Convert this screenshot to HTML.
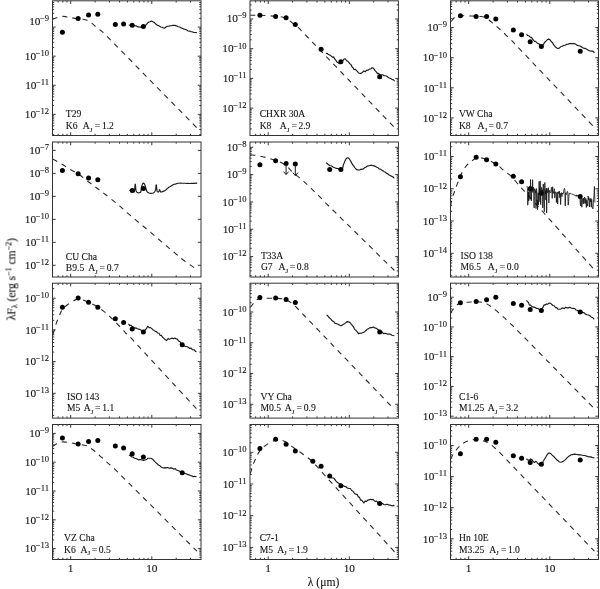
<!DOCTYPE html>
<html><head><meta charset="utf-8"><style>
html,body{margin:0;padding:0;background:#fff;}
svg{display:block;will-change:transform;}
text{font-family:"Liberation Serif",serif;fill:#111;stroke:#111;stroke-width:0.1px;}
.tl{font-size:11.3px;}
.sup{font-size:8.6px;}
.pt{font-size:9.6px;}
.sub{font-size:7px;}
.ax{font-size:11px;}
</style></head><body>
<svg width="600" height="589" viewBox="0 0 600 589">
<defs><filter id="bl" x="0" y="0" width="100%" height="100%"><feGaussianBlur stdDeviation="0.28"/></filter></defs>
<rect width="600" height="589" fill="#fff"/>
<g filter="url(#bl)">
<clipPath id="c00"><rect x="52.5" y="0.8" width="148.5" height="134.7"/></clipPath>
<path d="M58.14 135.5 v-1.7 M58.14 0.8 v1.7 M62.84 135.5 v-1.7 M62.84 0.8 v1.7 M66.99 135.5 v-1.7 M66.99 0.8 v1.7 M70.7 135.5 v-3.2 M70.7 0.8 v3.2 M95.11 135.5 v-1.7 M95.11 0.8 v1.7 M109.39 135.5 v-1.7 M109.39 0.8 v1.7 M119.53 135.5 v-1.7 M119.53 0.8 v1.7 M127.39 135.5 v-1.7 M127.39 0.8 v1.7 M133.81 135.5 v-1.7 M133.81 0.8 v1.7 M139.24 135.5 v-1.7 M139.24 0.8 v1.7 M143.94 135.5 v-1.7 M143.94 0.8 v1.7 M148.09 135.5 v-1.7 M148.09 0.8 v1.7 M151.8 135.5 v-3.2 M151.8 0.8 v3.2 M176.21 135.5 v-1.7 M176.21 0.8 v1.7 M190.49 135.5 v-1.7 M190.49 0.8 v1.7 M52.5 134.63 h1.7 M201 134.63 h-1.7 M52.5 129.51 h1.7 M201 129.51 h-1.7 M52.5 125.88 h1.7 M201 125.88 h-1.7 M52.5 123.06 h1.7 M201 123.06 h-1.7 M52.5 120.76 h1.7 M201 120.76 h-1.7 M52.5 118.81 h1.7 M201 118.81 h-1.7 M52.5 117.13 h1.7 M201 117.13 h-1.7 M52.5 115.64 h1.7 M201 115.64 h-1.7 M52.5 114.31 h3.2 M201 114.31 h-3.2 M52.5 105.56 h1.7 M201 105.56 h-1.7 M52.5 100.44 h1.7 M201 100.44 h-1.7 M52.5 96.81 h1.7 M201 96.81 h-1.7 M52.5 93.99 h1.7 M201 93.99 h-1.7 M52.5 91.69 h1.7 M201 91.69 h-1.7 M52.5 89.74 h1.7 M201 89.74 h-1.7 M52.5 88.06 h1.7 M201 88.06 h-1.7 M52.5 86.57 h1.7 M201 86.57 h-1.7 M52.5 85.24 h3.2 M201 85.24 h-3.2 M52.5 76.49 h1.7 M201 76.49 h-1.7 M52.5 71.37 h1.7 M201 71.37 h-1.7 M52.5 67.74 h1.7 M201 67.74 h-1.7 M52.5 64.92 h1.7 M201 64.92 h-1.7 M52.5 62.62 h1.7 M201 62.62 h-1.7 M52.5 60.67 h1.7 M201 60.67 h-1.7 M52.5 58.99 h1.7 M201 58.99 h-1.7 M52.5 57.5 h1.7 M201 57.5 h-1.7 M52.5 56.17 h3.2 M201 56.17 h-3.2 M52.5 47.42 h1.7 M201 47.42 h-1.7 M52.5 42.3 h1.7 M201 42.3 h-1.7 M52.5 38.67 h1.7 M201 38.67 h-1.7 M52.5 35.85 h1.7 M201 35.85 h-1.7 M52.5 33.55 h1.7 M201 33.55 h-1.7 M52.5 31.6 h1.7 M201 31.6 h-1.7 M52.5 29.92 h1.7 M201 29.92 h-1.7 M52.5 28.43 h1.7 M201 28.43 h-1.7 M52.5 27.1 h3.2 M201 27.1 h-3.2 M52.5 18.35 h1.7 M201 18.35 h-1.7 M52.5 13.23 h1.7 M201 13.23 h-1.7 M52.5 9.6 h1.7 M201 9.6 h-1.7 M52.5 6.78 h1.7 M201 6.78 h-1.7 M52.5 4.48 h1.7 M201 4.48 h-1.7 M52.5 2.53 h1.7 M201 2.53 h-1.7" stroke="#222" stroke-width="0.9" fill="none"/>
<rect x="52.5" y="0.8" width="148.5" height="134.7" fill="none" stroke="#333" stroke-width="1"/>
<text x="49.1" y="24.7" text-anchor="end" class="tl">10<tspan class="sup" dx="-0.5" dy="-3.9">−9</tspan></text>
<text x="49.1" y="59.87" text-anchor="end" class="tl">10<tspan class="sup" dx="-0.5" dy="-3.9">−10</tspan></text>
<text x="49.1" y="88.94" text-anchor="end" class="tl">10<tspan class="sup" dx="-0.5" dy="-3.9">−11</tspan></text>
<text x="49.1" y="118.01" text-anchor="end" class="tl">10<tspan class="sup" dx="-0.5" dy="-3.9">−12</tspan></text>
<g clip-path="url(#c00)"><path d="M52.5 19.3 C53.2 19.05 55.12 18.32 56.7 17.8 C58.28 17.28 60.28 16.33 62 16.2 C63.72 16.07 65.33 16.73 67 17 C68.67 17.27 70.5 17.53 72 17.8 C73.5 18.07 74.17 18.35 76 18.6 C77.83 18.85 81 18.95 83 19.3 C85 19.65 86.5 20.02 88 20.7 C89.5 21.38 90.67 22.38 92 23.4 C93.33 24.42 94.6 25.65 96 26.8 C97.4 27.95 99.03 29.18 100.4 30.3 C101.77 31.42 102.38 31.76 104.2 33.5 C106.02 35.24 108.96 38.35 111.34 40.77 C113.72 43.19 116.1 45.62 118.48 48.04 C120.86 50.46 123.24 52.88 125.62 55.31 C127.99 57.73 130.37 60.15 132.75 62.58 C135.13 65 137.51 67.42 139.89 69.85 C142.27 72.27 144.65 74.69 147.03 77.12 C149.41 79.54 151.79 81.96 154.17 84.38 C156.55 86.81 158.93 89.23 161.31 91.65 C163.69 94.08 166.07 96.5 168.45 98.92 C170.83 101.35 173.21 103.77 175.58 106.19 C177.96 108.62 180.34 111.04 182.72 113.46 C185.1 115.88 187.48 118.31 189.86 120.73 C192.24 123.15 195.81 126.79 197 128" stroke="#2a2a2a" stroke-width="1.1" fill="none" stroke-dasharray="5.2 5"/><path d="M128.8 25 L130.24 25.3 L131.59 25.1 L133.03 25.39 L134.4 25.75 L135.82 25.84 L137.12 26.38 L138.59 26.91 L140 27.08 L141.39 27.17 L142.73 27.42 L144.12 27.24 L145.19 26.06 L145.92 24.92 L146.69 24.06 L147.7 22.82 L148.87 21.97 L150.06 21.77 L151.47 20.97 L152.69 21.8 L153.82 22.09 L154.9 23.05 L156.04 24.32 L157.08 25.09 L158.25 25.5 L159.63 26.32 L160.83 27 L162.04 27.3 L163.44 27.95 L164.85 28.1 L166.06 27 L167.3 26.25 L168.77 26.14 L170.16 25.73 L171.6 25.73 L172.99 25.28 L174.44 25.37 L175.72 25.65 L177.02 25.99 L178.27 26.7 L179.69 26.97 L180.91 27.86 L182.15 28.23 L183.39 28.83 L184.89 29.27 L186.36 29.79 L187.84 30.76 L189.37 31.08 L190.68 31.57 L192.2 31.8 L193.78 32.53 L195.23 32.51 L196.61 32.6 L196.8 32.8" stroke="#1a1a1a" stroke-width="1.15" fill="none" stroke-linejoin="round"/></g>
<circle cx="62.4" cy="32.3" r="2.5"/>
<circle cx="78.13" cy="18.6" r="2.5"/>
<circle cx="88.59" cy="15.1" r="2.5"/>
<circle cx="97.81" cy="14.3" r="2.5"/>
<circle cx="115.32" cy="24.5" r="2.5"/>
<circle cx="123.6" cy="24" r="2.5"/>
<circle cx="132.19" cy="25.3" r="2.5"/>
<circle cx="143.36" cy="26.4" r="2.5"/>
<text x="65.8" y="117.4" class="pt">T29</text>
<text y="128.9" class="pt"><tspan x="65.8">K6</tspan><tspan x="82.85">A</tspan><tspan class="sub" dy="2.6">J</tspan><tspan x="94.7" dy="-2.6">=</tspan><tspan x="101.9">1.2</tspan></text>
<clipPath id="c10"><rect x="250" y="0.8" width="148.4" height="134.7"/></clipPath>
<path d="M255.64 135.5 v-1.7 M255.64 0.8 v1.7 M260.34 135.5 v-1.7 M260.34 0.8 v1.7 M264.49 135.5 v-1.7 M264.49 0.8 v1.7 M268.2 135.5 v-3.2 M268.2 0.8 v3.2 M292.61 135.5 v-1.7 M292.61 0.8 v1.7 M306.89 135.5 v-1.7 M306.89 0.8 v1.7 M317.03 135.5 v-1.7 M317.03 0.8 v1.7 M324.89 135.5 v-1.7 M324.89 0.8 v1.7 M331.31 135.5 v-1.7 M331.31 0.8 v1.7 M336.74 135.5 v-1.7 M336.74 0.8 v1.7 M341.44 135.5 v-1.7 M341.44 0.8 v1.7 M345.59 135.5 v-1.7 M345.59 0.8 v1.7 M349.3 135.5 v-3.2 M349.3 0.8 v3.2 M373.71 135.5 v-1.7 M373.71 0.8 v1.7 M387.99 135.5 v-1.7 M387.99 0.8 v1.7 M250 128.86 h1.7 M398.4 128.86 h-1.7 M250 123.63 h1.7 M398.4 123.63 h-1.7 M250 119.92 h1.7 M398.4 119.92 h-1.7 M250 117.04 h1.7 M398.4 117.04 h-1.7 M250 114.69 h1.7 M398.4 114.69 h-1.7 M250 112.7 h1.7 M398.4 112.7 h-1.7 M250 110.98 h1.7 M398.4 110.98 h-1.7 M250 109.46 h1.7 M398.4 109.46 h-1.7 M250 108.1 h3.2 M398.4 108.1 h-3.2 M250 99.16 h1.7 M398.4 99.16 h-1.7 M250 93.93 h1.7 M398.4 93.93 h-1.7 M250 90.22 h1.7 M398.4 90.22 h-1.7 M250 87.34 h1.7 M398.4 87.34 h-1.7 M250 84.99 h1.7 M398.4 84.99 h-1.7 M250 83 h1.7 M398.4 83 h-1.7 M250 81.28 h1.7 M398.4 81.28 h-1.7 M250 79.76 h1.7 M398.4 79.76 h-1.7 M250 78.4 h3.2 M398.4 78.4 h-3.2 M250 69.46 h1.7 M398.4 69.46 h-1.7 M250 64.23 h1.7 M398.4 64.23 h-1.7 M250 60.52 h1.7 M398.4 60.52 h-1.7 M250 57.64 h1.7 M398.4 57.64 h-1.7 M250 55.29 h1.7 M398.4 55.29 h-1.7 M250 53.3 h1.7 M398.4 53.3 h-1.7 M250 51.58 h1.7 M398.4 51.58 h-1.7 M250 50.06 h1.7 M398.4 50.06 h-1.7 M250 48.7 h3.2 M398.4 48.7 h-3.2 M250 39.76 h1.7 M398.4 39.76 h-1.7 M250 34.53 h1.7 M398.4 34.53 h-1.7 M250 30.82 h1.7 M398.4 30.82 h-1.7 M250 27.94 h1.7 M398.4 27.94 h-1.7 M250 25.59 h1.7 M398.4 25.59 h-1.7 M250 23.6 h1.7 M398.4 23.6 h-1.7 M250 21.88 h1.7 M398.4 21.88 h-1.7 M250 20.36 h1.7 M398.4 20.36 h-1.7 M250 19 h3.2 M398.4 19 h-3.2 M250 10.06 h1.7 M398.4 10.06 h-1.7 M250 4.83 h1.7 M398.4 4.83 h-1.7" stroke="#222" stroke-width="0.9" fill="none"/>
<rect x="250" y="0.8" width="148.4" height="134.7" fill="none" stroke="#333" stroke-width="1"/>
<text x="246.6" y="22" text-anchor="end" class="tl">10<tspan class="sup" dx="-0.5" dy="-3.9">−9</tspan></text>
<text x="246.6" y="52.4" text-anchor="end" class="tl">10<tspan class="sup" dx="-0.5" dy="-3.9">−10</tspan></text>
<text x="246.6" y="82.1" text-anchor="end" class="tl">10<tspan class="sup" dx="-0.5" dy="-3.9">−11</tspan></text>
<text x="246.6" y="111.8" text-anchor="end" class="tl">10<tspan class="sup" dx="-0.5" dy="-3.9">−12</tspan></text>
<g clip-path="url(#c10)"><path d="M250.2 15.2 C251.83 15.22 255.87 15.13 260 15.3 C264.13 15.47 271.17 15.88 275 16.2 C278.83 16.52 280.83 16.65 283 17.2 C285.17 17.75 286.33 18.45 288 19.5 C289.67 20.55 291.22 22.1 293 23.5 C294.78 24.9 296.53 25.9 298.7 27.9 C300.87 29.9 303.57 32.97 306.01 35.5 C308.44 38.03 310.88 40.57 313.32 43.1 C315.75 45.63 318.19 48.17 320.62 50.7 C323.06 53.23 325.49 55.77 327.93 58.3 C330.37 60.83 332.8 63.37 335.24 65.9 C337.67 68.43 340.11 70.97 342.55 73.5 C344.98 76.03 347.42 78.57 349.85 81.1 C352.29 83.63 354.73 86.17 357.16 88.7 C359.6 91.23 362.03 93.77 364.47 96.3 C366.91 98.83 369.34 101.37 371.78 103.9 C374.21 106.43 376.65 108.97 379.08 111.5 C381.52 114.03 383.96 116.57 386.39 119.1 C388.83 121.63 392.48 125.43 393.7 126.7" stroke="#2a2a2a" stroke-width="1.1" fill="none" stroke-dasharray="5.2 5"/><path d="M325.8 53.3 L327.22 53.56 L328.42 54.41 L329.73 55.02 L331.06 55.89 L332.28 57.15 L333.58 56.88 L334.59 58.66 L335.44 59.78 L336.19 60.71 L337.11 62.17 L338.29 62.74 L339.62 63.73 L340.93 62.03 L342.03 61.19 L343.08 60.52 L344.18 58.72 L345.44 59.09 L346.59 60.61 L347.56 61.17 L348.6 62.17 L349.71 63.62 L350.95 64.47 L351.99 66.76 L353.09 67.92 L354.18 69.69 L355.22 69.26 L356.44 70.45 L357.52 71.55 L358.47 73.05 L359.76 73.31 L361.12 73.43 L362.44 72.27 L363.86 70.95 L365.31 71.7 L366.7 70.05 L368.05 70.36 L369.42 69.05 L370.78 68.83 L372.08 67.71 L373.58 68.33 L374.62 69.86 L375.56 71.21 L376.49 72.16 L377.47 73.59 L378.6 73.44 L379.9 74.87 L381.29 74.79 L382.71 74.8 L384.07 75.71 L385.57 75.8 L386.89 76.25 L388.1 77.22 L389.28 77.93 L390.5 78.59 L391.85 79.37 L393.17 79.66 L394.42 80.84 L394.7 80.5" stroke="#1a1a1a" stroke-width="1.15" fill="none" stroke-linejoin="round"/></g>
<circle cx="259.9" cy="15.2" r="2.5"/>
<circle cx="275.63" cy="16.5" r="2.5"/>
<circle cx="286.09" cy="17.7" r="2.5"/>
<circle cx="295.31" cy="24.6" r="2.5"/>
<circle cx="321.1" cy="49.2" r="2.5"/>
<circle cx="340.86" cy="61.7" r="2.5"/>
<circle cx="379.69" cy="76.7" r="2.5"/>
<text x="259.7" y="117.4" class="pt">CHXR 30A</text>
<text y="128.9" class="pt"><tspan x="259.7">K8</tspan><tspan x="279.85">A</tspan><tspan class="sub" dy="2.6">J</tspan><tspan x="291.4" dy="-2.6">=</tspan><tspan x="298.4">2.9</tspan></text>
<clipPath id="c20"><rect x="450.5" y="0.8" width="148" height="134.7"/></clipPath>
<path d="M456.14 135.5 v-1.7 M456.14 0.8 v1.7 M460.84 135.5 v-1.7 M460.84 0.8 v1.7 M464.99 135.5 v-1.7 M464.99 0.8 v1.7 M468.7 135.5 v-3.2 M468.7 0.8 v3.2 M493.11 135.5 v-1.7 M493.11 0.8 v1.7 M507.39 135.5 v-1.7 M507.39 0.8 v1.7 M517.53 135.5 v-1.7 M517.53 0.8 v1.7 M525.39 135.5 v-1.7 M525.39 0.8 v1.7 M531.81 135.5 v-1.7 M531.81 0.8 v1.7 M537.24 135.5 v-1.7 M537.24 0.8 v1.7 M541.94 135.5 v-1.7 M541.94 0.8 v1.7 M546.09 135.5 v-1.7 M546.09 0.8 v1.7 M549.8 135.5 v-3.2 M549.8 0.8 v3.2 M574.21 135.5 v-1.7 M574.21 0.8 v1.7 M588.49 135.5 v-1.7 M588.49 0.8 v1.7 M450.5 133.64 h1.7 M598.5 133.64 h-1.7 M450.5 129.88 h1.7 M598.5 129.88 h-1.7 M450.5 126.96 h1.7 M598.5 126.96 h-1.7 M450.5 124.58 h1.7 M598.5 124.58 h-1.7 M450.5 122.56 h1.7 M598.5 122.56 h-1.7 M450.5 120.82 h1.7 M598.5 120.82 h-1.7 M450.5 119.28 h1.7 M598.5 119.28 h-1.7 M450.5 117.9 h3.2 M598.5 117.9 h-3.2 M450.5 108.84 h1.7 M598.5 108.84 h-1.7 M450.5 103.54 h1.7 M598.5 103.54 h-1.7 M450.5 99.78 h1.7 M598.5 99.78 h-1.7 M450.5 96.86 h1.7 M598.5 96.86 h-1.7 M450.5 94.48 h1.7 M598.5 94.48 h-1.7 M450.5 92.46 h1.7 M598.5 92.46 h-1.7 M450.5 90.72 h1.7 M598.5 90.72 h-1.7 M450.5 89.18 h1.7 M598.5 89.18 h-1.7 M450.5 87.8 h3.2 M598.5 87.8 h-3.2 M450.5 78.74 h1.7 M598.5 78.74 h-1.7 M450.5 73.44 h1.7 M598.5 73.44 h-1.7 M450.5 69.68 h1.7 M598.5 69.68 h-1.7 M450.5 66.76 h1.7 M598.5 66.76 h-1.7 M450.5 64.38 h1.7 M598.5 64.38 h-1.7 M450.5 62.36 h1.7 M598.5 62.36 h-1.7 M450.5 60.62 h1.7 M598.5 60.62 h-1.7 M450.5 59.08 h1.7 M598.5 59.08 h-1.7 M450.5 57.7 h3.2 M598.5 57.7 h-3.2 M450.5 48.64 h1.7 M598.5 48.64 h-1.7 M450.5 43.34 h1.7 M598.5 43.34 h-1.7 M450.5 39.58 h1.7 M598.5 39.58 h-1.7 M450.5 36.66 h1.7 M598.5 36.66 h-1.7 M450.5 34.28 h1.7 M598.5 34.28 h-1.7 M450.5 32.26 h1.7 M598.5 32.26 h-1.7 M450.5 30.52 h1.7 M598.5 30.52 h-1.7 M450.5 28.98 h1.7 M598.5 28.98 h-1.7 M450.5 27.6 h3.2 M598.5 27.6 h-3.2 M450.5 18.54 h1.7 M598.5 18.54 h-1.7 M450.5 13.24 h1.7 M598.5 13.24 h-1.7 M450.5 9.48 h1.7 M598.5 9.48 h-1.7 M450.5 6.56 h1.7 M598.5 6.56 h-1.7 M450.5 4.18 h1.7 M598.5 4.18 h-1.7 M450.5 2.16 h1.7 M598.5 2.16 h-1.7" stroke="#222" stroke-width="0.9" fill="none"/>
<rect x="450.5" y="0.8" width="148" height="134.7" fill="none" stroke="#333" stroke-width="1"/>
<text x="447.1" y="31.3" text-anchor="end" class="tl">10<tspan class="sup" dx="-0.5" dy="-3.9">−9</tspan></text>
<text x="447.1" y="61.4" text-anchor="end" class="tl">10<tspan class="sup" dx="-0.5" dy="-3.9">−10</tspan></text>
<text x="447.1" y="91.5" text-anchor="end" class="tl">10<tspan class="sup" dx="-0.5" dy="-3.9">−11</tspan></text>
<text x="447.1" y="121.6" text-anchor="end" class="tl">10<tspan class="sup" dx="-0.5" dy="-3.9">−12</tspan></text>
<g clip-path="url(#c20)"><path d="M451.2 21.5 C451.67 20.92 452.87 18.97 454 18 C455.13 17.03 455.33 16.03 458 15.7 C460.67 15.37 466.33 15.87 470 16 C473.67 16.13 477.55 16.27 480 16.5 C482.45 16.73 483.17 16.77 484.7 17.4 C486.23 18.03 487.77 19.25 489.2 20.3 C490.63 21.35 491.93 22.55 493.3 23.7 C494.67 24.85 496.03 26.05 497.4 27.2 C498.77 28.35 500.2 29.42 501.5 30.6 C502.8 31.78 503.95 33.07 505.2 34.3 C506.45 35.53 507.7 36.73 509 38 C510.3 39.27 511.77 40.63 513 41.9 C514.23 43.17 514.66 43.75 516.4 45.6 C518.14 47.45 521.08 50.52 523.43 52.97 C525.77 55.43 528.11 57.89 530.45 60.35 C532.8 62.8 535.14 65.26 537.48 67.72 C539.82 70.18 542.17 72.63 544.51 75.09 C546.85 77.55 549.19 80.01 551.54 82.46 C553.88 84.92 556.22 87.38 558.56 89.84 C560.91 92.29 563.25 94.75 565.59 97.21 C567.93 99.67 570.28 102.12 572.62 104.58 C574.96 107.04 577.3 109.5 579.65 111.95 C581.99 114.41 584.33 116.87 586.67 119.33 C589.02 121.78 592.53 125.47 593.7 126.7" stroke="#2a2a2a" stroke-width="1.1" fill="none" stroke-dasharray="5.2 5"/><path d="M526.5 34.2 L527.76 35.55 L528.94 35.81 L530.21 37.13 L531.45 37.4 L532.52 38.92 L533.55 40.32 L534.55 41.36 L535.54 41.44 L536.76 42.65 L537.98 43.66 L539.21 43.83 L540.4 45.84 L541.7 45.81 L542.8 45.11 L543.61 44.22 L544.38 42.66 L545.31 41.74 L546.22 40.9 L547.26 39.87 L548.55 39.12 L549.73 39.45 L550.78 40.97 L551.75 41.98 L552.61 42.69 L553.55 44.68 L554.53 45.85 L555.5 46.98 L556.72 47.98 L558.06 48.43 L559.32 48.19 L560.53 46.8 L561.75 46.56 L562.98 45.68 L564.19 45.23 L565.43 45.11 L566.73 44.33 L568.15 44.1 L569.69 43.56 L571.24 43.58 L572.72 43.63 L574.03 43.61 L575.44 44.01 L576.89 45.11 L578.3 45.75 L579.55 45.72 L580.88 46.43 L582.29 47.54 L583.8 48.34 L585 48.2 L586.37 48.93 L587.94 49.99 L589.59 50.84 L591.2 51.14 L592.65 51.02 L594.14 52.3 L594.4 52" stroke="#1a1a1a" stroke-width="1.15" fill="none" stroke-linejoin="round"/></g>
<circle cx="460.4" cy="15.7" r="2.5"/>
<circle cx="476.13" cy="16.5" r="2.5"/>
<circle cx="486.59" cy="16.5" r="2.5"/>
<circle cx="495.81" cy="19" r="2.5"/>
<circle cx="513.32" cy="29.9" r="2.5"/>
<circle cx="521.6" cy="34.7" r="2.5"/>
<circle cx="530.19" cy="41.8" r="2.5"/>
<circle cx="541.36" cy="46.4" r="2.5"/>
<circle cx="580.19" cy="51.2" r="2.5"/>
<text x="458.9" y="117.4" class="pt">VW Cha</text>
<text y="128.9" class="pt"><tspan x="458.9">K8</tspan><tspan x="477.45">A</tspan><tspan class="sub" dy="2.6">J</tspan><tspan x="488.4" dy="-2.6">=</tspan><tspan x="496">0.7</tspan></text>
<clipPath id="c01"><rect x="52.5" y="142" width="148.5" height="135"/></clipPath>
<path d="M58.14 277 v-1.7 M58.14 142 v1.7 M62.84 277 v-1.7 M62.84 142 v1.7 M66.99 277 v-1.7 M66.99 142 v1.7 M70.7 277 v-3.2 M70.7 142 v3.2 M95.11 277 v-1.7 M95.11 142 v1.7 M109.39 277 v-1.7 M109.39 142 v1.7 M119.53 277 v-1.7 M119.53 142 v1.7 M127.39 277 v-1.7 M127.39 142 v1.7 M133.81 277 v-1.7 M133.81 142 v1.7 M139.24 277 v-1.7 M139.24 142 v1.7 M143.94 277 v-1.7 M143.94 142 v1.7 M148.09 277 v-1.7 M148.09 142 v1.7 M151.8 277 v-3.2 M151.8 142 v3.2 M176.21 277 v-1.7 M176.21 142 v1.7 M190.49 277 v-1.7 M190.49 142 v1.7 M52.5 265.3 h3.2 M201 265.3 h-3.2 M52.5 242.32 h3.2 M201 242.32 h-3.2 M52.5 219.34 h3.2 M201 219.34 h-3.2 M52.5 196.36 h3.2 M201 196.36 h-3.2 M52.5 173.38 h3.2 M201 173.38 h-3.2 M52.5 150.4 h3.2 M201 150.4 h-3.2" stroke="#222" stroke-width="0.9" fill="none"/>
<rect x="52.5" y="142" width="148.5" height="135" fill="none" stroke="#333" stroke-width="1"/>
<text x="49.1" y="154.1" text-anchor="end" class="tl">10<tspan class="sup" dx="-0.5" dy="-3.9">−7</tspan></text>
<text x="49.1" y="177.08" text-anchor="end" class="tl">10<tspan class="sup" dx="-0.5" dy="-3.9">−8</tspan></text>
<text x="49.1" y="200.06" text-anchor="end" class="tl">10<tspan class="sup" dx="-0.5" dy="-3.9">−9</tspan></text>
<text x="49.1" y="223.04" text-anchor="end" class="tl">10<tspan class="sup" dx="-0.5" dy="-3.9">−10</tspan></text>
<text x="49.1" y="246.02" text-anchor="end" class="tl">10<tspan class="sup" dx="-0.5" dy="-3.9">−11</tspan></text>
<text x="49.1" y="269" text-anchor="end" class="tl">10<tspan class="sup" dx="-0.5" dy="-3.9">−12</tspan></text>
<g clip-path="url(#c01)"><path d="M52.7 159 C54.25 159.88 59 162.52 62 164.3 C65 166.08 67.92 168.05 70.7 169.7 C73.48 171.35 75.7 172.15 78.7 174.2 C81.7 176.25 85.7 179.7 88.7 182 C91.7 184.3 93.98 185.97 96.7 188 C99.42 190.03 101.67 191.62 105 194.2 C108.33 196.78 113.37 200.74 116.7 203.5 C120.03 206.26 122.23 208.33 125 210.75 C127.77 213.17 130.53 215.64 133.3 218 C136.08 220.36 138.87 222.6 141.65 224.9 C144.43 227.2 147.22 229.45 150 231.8 C152.78 234.15 155.57 236.6 158.35 239 C161.13 241.4 163.92 243.85 166.7 246.2 C169.47 248.55 172.23 250.8 175 253.1 C177.77 255.4 179.55 257.18 183.3 260 C187.05 262.82 195.13 268.33 197.5 270" stroke="#2a2a2a" stroke-width="1.1" fill="none" stroke-dasharray="5.2 5"/><path d="M129.6 190.5 L130.98 190.75 L132.3 190.97 L133.3 191.77 L134.3 191.81 L134.56 190.46 L134.72 189.07 L134.86 187.23 L134.98 185.56 L135.15 184.15 L135.5 184.8 L135.59 186.25 L135.7 187.73 L135.85 189.51 L136.07 190.94 L136.7 192.09 L137.97 192.87 L139.4 192.72 L140.62 192.25 L141.05 190.69 L141.2 189.2 L141.34 187.9 L141.72 186.31 L142.12 185.14 L142.66 183.68 L143.63 182.99 L144.51 184.14 L145.1 185.32 L145.46 186.53 L145.82 187.95 L146.24 189.76 L146.78 191.13 L147.73 192.36 L149.1 192.97 L150.65 193.4 L152.1 193.3 L153.38 193.01 L154.45 192.11 L155.13 190.74 L155.65 189.43 L155.85 188.03 L155.96 186.79 L156.03 185.2 L156.33 184.93 L156.5 186.34 L156.63 187.62 L156.78 188.92 L156.94 190.54 L157.27 191.71 L158.43 192.05 L159.26 190.75 L159.51 189.53 L160.06 190.81 L160.55 192.03 L161.82 191.91 L163.16 191.37 L164.44 190.85 L165.58 190.17 L166.59 189.25 L167.65 188.34 L168.75 187.3 L169.89 186.72 L171.08 186.07 L172.3 185.22 L173.52 184.53 L174.91 184.06 L176.19 183.83 L177.62 183.23 L179.13 183.26 L180.56 183.09 L182.15 183.2 L183.85 183.22 L185.18 183.28 L186.54 183.48 L187.98 183.36 L189.65 183.48 L191.43 183.32 L193.19 183.3 L194.83 183.42 L196.2 183.05 L197.2 183.4" stroke="#1a1a1a" stroke-width="1.15" fill="none" stroke-linejoin="round"/></g>
<circle cx="62.4" cy="170.4" r="2.5"/>
<circle cx="78.13" cy="173.7" r="2.5"/>
<circle cx="88.59" cy="178" r="2.5"/>
<circle cx="97.81" cy="179.8" r="2.5"/>
<circle cx="132.19" cy="190.5" r="2.5"/>
<circle cx="143.36" cy="188.4" r="2.5"/>
<text x="65.8" y="259.9" class="pt">CU Cha</text>
<text y="271.4" class="pt"><tspan x="65.8">B9.5</tspan><tspan x="88.15">A</tspan><tspan class="sub" dy="2.6">J</tspan><tspan x="99.4" dy="-2.6">=</tspan><tspan x="106.8">0.7</tspan></text>
<clipPath id="c11"><rect x="250" y="142" width="148.4" height="135"/></clipPath>
<path d="M255.64 277 v-1.7 M255.64 142 v1.7 M260.34 277 v-1.7 M260.34 142 v1.7 M264.49 277 v-1.7 M264.49 142 v1.7 M268.2 277 v-3.2 M268.2 142 v3.2 M292.61 277 v-1.7 M292.61 142 v1.7 M306.89 277 v-1.7 M306.89 142 v1.7 M317.03 277 v-1.7 M317.03 142 v1.7 M324.89 277 v-1.7 M324.89 142 v1.7 M331.31 277 v-1.7 M331.31 142 v1.7 M336.74 277 v-1.7 M336.74 142 v1.7 M341.44 277 v-1.7 M341.44 142 v1.7 M345.59 277 v-1.7 M345.59 142 v1.7 M349.3 277 v-3.2 M349.3 142 v3.2 M373.71 277 v-1.7 M373.71 142 v1.7 M387.99 277 v-1.7 M387.99 142 v1.7 M250 275.68 h1.7 M398.4 275.68 h-1.7 M250 270.87 h1.7 M398.4 270.87 h-1.7 M250 267.45 h1.7 M398.4 267.45 h-1.7 M250 264.8 h1.7 M398.4 264.8 h-1.7 M250 262.64 h1.7 M398.4 262.64 h-1.7 M250 260.81 h1.7 M398.4 260.81 h-1.7 M250 259.23 h1.7 M398.4 259.23 h-1.7 M250 257.83 h1.7 M398.4 257.83 h-1.7 M250 256.58 h3.2 M398.4 256.58 h-3.2 M250 248.36 h1.7 M398.4 248.36 h-1.7 M250 243.55 h1.7 M398.4 243.55 h-1.7 M250 240.13 h1.7 M398.4 240.13 h-1.7 M250 237.48 h1.7 M398.4 237.48 h-1.7 M250 235.32 h1.7 M398.4 235.32 h-1.7 M250 233.49 h1.7 M398.4 233.49 h-1.7 M250 231.91 h1.7 M398.4 231.91 h-1.7 M250 230.51 h1.7 M398.4 230.51 h-1.7 M250 229.26 h3.2 M398.4 229.26 h-3.2 M250 221.04 h1.7 M398.4 221.04 h-1.7 M250 216.23 h1.7 M398.4 216.23 h-1.7 M250 212.81 h1.7 M398.4 212.81 h-1.7 M250 210.16 h1.7 M398.4 210.16 h-1.7 M250 208 h1.7 M398.4 208 h-1.7 M250 206.17 h1.7 M398.4 206.17 h-1.7 M250 204.59 h1.7 M398.4 204.59 h-1.7 M250 203.19 h1.7 M398.4 203.19 h-1.7 M250 201.94 h3.2 M398.4 201.94 h-3.2 M250 193.72 h1.7 M398.4 193.72 h-1.7 M250 188.91 h1.7 M398.4 188.91 h-1.7 M250 185.49 h1.7 M398.4 185.49 h-1.7 M250 182.84 h1.7 M398.4 182.84 h-1.7 M250 180.68 h1.7 M398.4 180.68 h-1.7 M250 178.85 h1.7 M398.4 178.85 h-1.7 M250 177.27 h1.7 M398.4 177.27 h-1.7 M250 175.87 h1.7 M398.4 175.87 h-1.7 M250 174.62 h3.2 M398.4 174.62 h-3.2 M250 166.4 h1.7 M398.4 166.4 h-1.7 M250 161.59 h1.7 M398.4 161.59 h-1.7 M250 158.17 h1.7 M398.4 158.17 h-1.7 M250 155.52 h1.7 M398.4 155.52 h-1.7 M250 153.36 h1.7 M398.4 153.36 h-1.7 M250 151.53 h1.7 M398.4 151.53 h-1.7 M250 149.95 h1.7 M398.4 149.95 h-1.7 M250 148.55 h1.7 M398.4 148.55 h-1.7 M250 147.3 h3.2 M398.4 147.3 h-3.2" stroke="#222" stroke-width="0.9" fill="none"/>
<rect x="250" y="142" width="148.4" height="135" fill="none" stroke="#333" stroke-width="1"/>
<text x="246.6" y="151" text-anchor="end" class="tl">10<tspan class="sup" dx="-0.5" dy="-3.9">−8</tspan></text>
<text x="246.6" y="178.32" text-anchor="end" class="tl">10<tspan class="sup" dx="-0.5" dy="-3.9">−9</tspan></text>
<text x="246.6" y="205.64" text-anchor="end" class="tl">10<tspan class="sup" dx="-0.5" dy="-3.9">−10</tspan></text>
<text x="246.6" y="232.96" text-anchor="end" class="tl">10<tspan class="sup" dx="-0.5" dy="-3.9">−11</tspan></text>
<text x="246.6" y="260.28" text-anchor="end" class="tl">10<tspan class="sup" dx="-0.5" dy="-3.9">−12</tspan></text>
<g clip-path="url(#c11)"><path d="M250.2 154.7 C252.17 155 258.15 155.65 262 156.5 C265.85 157.35 269.97 158.72 273.3 159.8 C276.63 160.88 279.72 161.88 282 163 C284.28 164.12 285.5 165.23 287 166.5 C288.5 167.77 289.67 169.32 291 170.6 C292.33 171.88 293.67 173.08 295 174.2 C296.33 175.32 297.67 176.2 299 177.3 C300.33 178.4 301.98 179.9 303 180.8 C304.02 181.7 304.08 181.77 305.1 182.7 C306.12 183.63 307.8 185.15 309.1 186.4 C310.4 187.65 311.65 188.95 312.9 190.2 C314.15 191.45 315.35 192.72 316.6 193.9 C317.85 195.08 319.03 195.93 320.4 197.3 C321.77 198.67 322.78 200.03 324.8 202.1 C326.82 204.17 329.96 207.17 332.53 209.7 C335.11 212.23 337.69 214.77 340.27 217.3 C342.84 219.83 345.42 222.37 348 224.9 C350.58 227.43 353.16 229.97 355.73 232.5 C358.31 235.03 360.89 237.57 363.47 240.1 C366.04 242.63 368.62 245.17 371.2 247.7 C373.78 250.23 376.36 252.77 378.93 255.3 C381.51 257.83 384.09 260.37 386.67 262.9 C389.24 265.43 393.11 269.23 394.4 270.5" stroke="#2a2a2a" stroke-width="1.1" fill="none" stroke-dasharray="5.2 5"/><path d="M326 162.8 L327.24 163.46 L328.34 164.55 L329.53 165.43 L330.73 165.79 L332.02 166.27 L333.39 167.15 L334.82 167.81 L336.33 168.43 L337.7 168.46 L339.09 168.87 L340.39 169.48 L341.7 169.19 L342.53 168.38 L342.95 167 L343.28 165.35 L343.64 163.89 L344.14 163.22 L344.77 161.38 L345.45 159.98 L346.15 158.73 L346.99 157.94 L348.28 157.86 L349.19 158.8 L350 159.99 L350.85 161.36 L351.57 162.74 L352.33 164.18 L353.18 165.3 L353.91 166.01 L354.68 167.67 L355.49 168.33 L356.55 169.61 L357.94 169.84 L359.44 169.97 L360.73 169.4 L362 169.14 L363.25 169.2 L364.49 167.82 L365.74 167.26 L367 166.24 L368.2 165.93 L369.61 165.56 L370.9 165.19 L372.43 165.45 L373.88 165.87 L375.46 166.36 L376.7 167.3 L377.95 167.71 L379.19 168.93 L380.4 169.12 L381.62 170.07 L382.86 170.69 L384.09 171.67 L385.31 172.15 L386.5 173.24 L387.64 173.75 L389.11 174.95 L390.24 175.52 L391.35 176.12 L392.7 176.78 L393.8 177.78 L394.4 178" stroke="#1a1a1a" stroke-width="1.15" fill="none" stroke-linejoin="round"/></g>
<circle cx="259.9" cy="164.8" r="2.5"/>
<circle cx="275.63" cy="160.8" r="2.5"/>
<circle cx="286.09" cy="163.6" r="2.5"/>
<circle cx="295.31" cy="164.1" r="2.5"/>
<circle cx="329.69" cy="169.6" r="2.5"/>
<circle cx="340.86" cy="169.6" r="2.5"/>
<path d="M286.09 163.5 V174.5 M283.49 171.6 L286.09 174.5 L288.69 171.6" stroke="#1a1a1a" stroke-width="1" fill="none"/>
<path d="M295.31 164.5 V175.5 M292.71 172.6 L295.31 175.5 L297.91 172.6" stroke="#1a1a1a" stroke-width="1" fill="none"/>
<text x="260.9" y="258.6" class="pt">T33A</text>
<text y="270.1" class="pt"><tspan x="260.9">G7</tspan><tspan x="278.55">A</tspan><tspan class="sub" dy="2.6">J</tspan><tspan x="289.7" dy="-2.6">=</tspan><tspan x="296.8">0.8</tspan></text>
<clipPath id="c21"><rect x="450.5" y="142" width="148" height="135"/></clipPath>
<path d="M456.14 277 v-1.7 M456.14 142 v1.7 M460.84 277 v-1.7 M460.84 142 v1.7 M464.99 277 v-1.7 M464.99 142 v1.7 M468.7 277 v-3.2 M468.7 142 v3.2 M493.11 277 v-1.7 M493.11 142 v1.7 M507.39 277 v-1.7 M507.39 142 v1.7 M517.53 277 v-1.7 M517.53 142 v1.7 M525.39 277 v-1.7 M525.39 142 v1.7 M531.81 277 v-1.7 M531.81 142 v1.7 M537.24 277 v-1.7 M537.24 142 v1.7 M541.94 277 v-1.7 M541.94 142 v1.7 M546.09 277 v-1.7 M546.09 142 v1.7 M549.8 277 v-3.2 M549.8 142 v3.2 M574.21 277 v-1.7 M574.21 142 v1.7 M588.49 277 v-1.7 M588.49 142 v1.7 M450.5 275.79 h1.7 M598.5 275.79 h-1.7 M450.5 270.11 h1.7 M598.5 270.11 h-1.7 M450.5 266.08 h1.7 M598.5 266.08 h-1.7 M450.5 262.96 h1.7 M598.5 262.96 h-1.7 M450.5 260.4 h1.7 M598.5 260.4 h-1.7 M450.5 258.25 h1.7 M598.5 258.25 h-1.7 M450.5 256.38 h1.7 M598.5 256.38 h-1.7 M450.5 254.73 h1.7 M598.5 254.73 h-1.7 M450.5 253.25 h3.2 M598.5 253.25 h-3.2 M450.5 243.54 h1.7 M598.5 243.54 h-1.7 M450.5 237.86 h1.7 M598.5 237.86 h-1.7 M450.5 233.83 h1.7 M598.5 233.83 h-1.7 M450.5 230.71 h1.7 M598.5 230.71 h-1.7 M450.5 228.15 h1.7 M598.5 228.15 h-1.7 M450.5 226 h1.7 M598.5 226 h-1.7 M450.5 224.13 h1.7 M598.5 224.13 h-1.7 M450.5 222.48 h1.7 M598.5 222.48 h-1.7 M450.5 221 h3.2 M598.5 221 h-3.2 M450.5 211.29 h1.7 M598.5 211.29 h-1.7 M450.5 205.61 h1.7 M598.5 205.61 h-1.7 M450.5 201.58 h1.7 M598.5 201.58 h-1.7 M450.5 198.46 h1.7 M598.5 198.46 h-1.7 M450.5 195.9 h1.7 M598.5 195.9 h-1.7 M450.5 193.75 h1.7 M598.5 193.75 h-1.7 M450.5 191.88 h1.7 M598.5 191.88 h-1.7 M450.5 190.23 h1.7 M598.5 190.23 h-1.7 M450.5 188.75 h3.2 M598.5 188.75 h-3.2 M450.5 179.04 h1.7 M598.5 179.04 h-1.7 M450.5 173.36 h1.7 M598.5 173.36 h-1.7 M450.5 169.33 h1.7 M598.5 169.33 h-1.7 M450.5 166.21 h1.7 M598.5 166.21 h-1.7 M450.5 163.65 h1.7 M598.5 163.65 h-1.7 M450.5 161.5 h1.7 M598.5 161.5 h-1.7 M450.5 159.63 h1.7 M598.5 159.63 h-1.7 M450.5 157.98 h1.7 M598.5 157.98 h-1.7 M450.5 156.5 h3.2 M598.5 156.5 h-3.2 M450.5 146.79 h1.7 M598.5 146.79 h-1.7" stroke="#222" stroke-width="0.9" fill="none"/>
<rect x="450.5" y="142" width="148" height="135" fill="none" stroke="#333" stroke-width="1"/>
<text x="447.1" y="160.2" text-anchor="end" class="tl">10<tspan class="sup" dx="-0.5" dy="-3.9">−11</tspan></text>
<text x="447.1" y="192.45" text-anchor="end" class="tl">10<tspan class="sup" dx="-0.5" dy="-3.9">−12</tspan></text>
<text x="447.1" y="224.7" text-anchor="end" class="tl">10<tspan class="sup" dx="-0.5" dy="-3.9">−13</tspan></text>
<text x="447.1" y="256.95" text-anchor="end" class="tl">10<tspan class="sup" dx="-0.5" dy="-3.9">−14</tspan></text>
<g clip-path="url(#c21)"><path d="M450.6 206 C450.85 204.67 451.52 200.2 452.1 198 C452.68 195.8 453.53 194.37 454.1 192.8 C454.67 191.23 454.9 190.27 455.5 188.6 C456.1 186.93 456.92 184.8 457.7 182.8 C458.48 180.8 459.4 178.48 460.2 176.6 C461 174.72 461.7 173.02 462.5 171.5 C463.3 169.98 464.08 168.75 465 167.5 C465.92 166.25 466.93 165.05 468 164 C469.07 162.95 470.23 162.08 471.4 161.2 C472.57 160.32 473.73 159.3 475 158.7 C476.27 158.1 477.38 157.58 479 157.6 C480.62 157.62 482.92 158.3 484.7 158.8 C486.48 159.3 488.23 159.95 489.7 160.6 C491.17 161.25 492.02 161.82 493.5 162.7 C494.98 163.58 497.05 164.75 498.6 165.9 C500.15 167.05 501.38 168.42 502.8 169.6 C504.22 170.78 505.68 171.9 507.1 173 C508.52 174.1 510.1 175.07 511.3 176.2 C512.5 177.33 513.17 178.47 514.3 179.8 C515.43 181.13 516.9 182.8 518.1 184.2 C519.3 185.6 520.08 186.65 521.5 188.2 C522.92 189.75 524.61 191.33 526.6 193.5 C528.59 195.67 531.16 198.63 533.44 201.2 C535.72 203.77 538 206.33 540.28 208.9 C542.56 211.47 544.84 214.03 547.12 216.6 C549.4 219.17 551.68 221.73 553.96 224.3 C556.24 226.87 558.52 229.43 560.8 232 C563.08 234.57 565.36 237.13 567.64 239.7 C569.92 242.27 572.2 244.83 574.48 247.4 C576.76 249.97 579.04 252.53 581.32 255.1 C583.6 257.67 585.88 260.23 588.16 262.8 C590.44 265.37 593.86 269.22 595 270.5" stroke="#2a2a2a" stroke-width="1.1" fill="none" stroke-dasharray="5.2 5"/></g>
<circle cx="460.4" cy="176.7" r="2.5"/>
<circle cx="476.13" cy="157.2" r="2.5"/>
<circle cx="486.59" cy="159.8" r="2.5"/>
<circle cx="495.81" cy="164.1" r="2.5"/>
<circle cx="513.32" cy="176.3" r="2.5"/>
<circle cx="521.6" cy="181.8" r="2.5"/>
<circle cx="530.19" cy="188.7" r="2.5"/>
<circle cx="541.36" cy="193.3" r="2.5"/>
<circle cx="580.19" cy="196.4" r="2.5"/>
<text x="460.5" y="258.6" class="pt">ISO 138</text>
<text y="270.1" class="pt"><tspan x="460.5">M6.5</tspan><tspan x="487.85">A</tspan><tspan class="sub" dy="2.6">J</tspan><tspan x="499.7" dy="-2.6">=</tspan><tspan x="506.8">0.0</tspan></text>
<clipPath id="c02"><rect x="52.5" y="283.2" width="148.5" height="134.9"/></clipPath>
<path d="M58.14 418.1 v-1.7 M58.14 283.2 v1.7 M62.84 418.1 v-1.7 M62.84 283.2 v1.7 M66.99 418.1 v-1.7 M66.99 283.2 v1.7 M70.7 418.1 v-3.2 M70.7 283.2 v3.2 M95.11 418.1 v-1.7 M95.11 283.2 v1.7 M109.39 418.1 v-1.7 M109.39 283.2 v1.7 M119.53 418.1 v-1.7 M119.53 283.2 v1.7 M127.39 418.1 v-1.7 M127.39 283.2 v1.7 M133.81 418.1 v-1.7 M133.81 283.2 v1.7 M139.24 418.1 v-1.7 M139.24 283.2 v1.7 M143.94 418.1 v-1.7 M143.94 283.2 v1.7 M148.09 418.1 v-1.7 M148.09 283.2 v1.7 M151.8 418.1 v-3.2 M151.8 283.2 v3.2 M176.21 418.1 v-1.7 M176.21 283.2 v1.7 M190.49 418.1 v-1.7 M190.49 283.2 v1.7 M52.5 415.46 h1.7 M201 415.46 h-1.7 M52.5 409.88 h1.7 M201 409.88 h-1.7 M52.5 405.91 h1.7 M201 405.91 h-1.7 M52.5 402.84 h1.7 M201 402.84 h-1.7 M52.5 400.33 h1.7 M201 400.33 h-1.7 M52.5 398.21 h1.7 M201 398.21 h-1.7 M52.5 396.37 h1.7 M201 396.37 h-1.7 M52.5 394.75 h1.7 M201 394.75 h-1.7 M52.5 393.3 h3.2 M201 393.3 h-3.2 M52.5 383.76 h1.7 M201 383.76 h-1.7 M52.5 378.18 h1.7 M201 378.18 h-1.7 M52.5 374.21 h1.7 M201 374.21 h-1.7 M52.5 371.14 h1.7 M201 371.14 h-1.7 M52.5 368.63 h1.7 M201 368.63 h-1.7 M52.5 366.51 h1.7 M201 366.51 h-1.7 M52.5 364.67 h1.7 M201 364.67 h-1.7 M52.5 363.05 h1.7 M201 363.05 h-1.7 M52.5 361.6 h3.2 M201 361.6 h-3.2 M52.5 352.06 h1.7 M201 352.06 h-1.7 M52.5 346.48 h1.7 M201 346.48 h-1.7 M52.5 342.51 h1.7 M201 342.51 h-1.7 M52.5 339.44 h1.7 M201 339.44 h-1.7 M52.5 336.93 h1.7 M201 336.93 h-1.7 M52.5 334.81 h1.7 M201 334.81 h-1.7 M52.5 332.97 h1.7 M201 332.97 h-1.7 M52.5 331.35 h1.7 M201 331.35 h-1.7 M52.5 329.9 h3.2 M201 329.9 h-3.2 M52.5 320.36 h1.7 M201 320.36 h-1.7 M52.5 314.78 h1.7 M201 314.78 h-1.7 M52.5 310.81 h1.7 M201 310.81 h-1.7 M52.5 307.74 h1.7 M201 307.74 h-1.7 M52.5 305.23 h1.7 M201 305.23 h-1.7 M52.5 303.11 h1.7 M201 303.11 h-1.7 M52.5 301.27 h1.7 M201 301.27 h-1.7 M52.5 299.65 h1.7 M201 299.65 h-1.7 M52.5 298.2 h3.2 M201 298.2 h-3.2 M52.5 288.66 h1.7 M201 288.66 h-1.7" stroke="#222" stroke-width="0.9" fill="none"/>
<rect x="52.5" y="283.2" width="148.5" height="134.9" fill="none" stroke="#333" stroke-width="1"/>
<text x="49.1" y="301.9" text-anchor="end" class="tl">10<tspan class="sup" dx="-0.5" dy="-3.9">−10</tspan></text>
<text x="49.1" y="333.6" text-anchor="end" class="tl">10<tspan class="sup" dx="-0.5" dy="-3.9">−11</tspan></text>
<text x="49.1" y="365.3" text-anchor="end" class="tl">10<tspan class="sup" dx="-0.5" dy="-3.9">−12</tspan></text>
<text x="49.1" y="397" text-anchor="end" class="tl">10<tspan class="sup" dx="-0.5" dy="-3.9">−13</tspan></text>
<g clip-path="url(#c02)"><path d="M52.8 334.5 C53.1 333.62 53.98 331.18 54.6 329.2 C55.22 327.22 55.82 324.55 56.5 322.6 C57.18 320.65 58.03 319.1 58.7 317.5 C59.37 315.9 59.92 314.27 60.5 313 C61.08 311.73 61.53 310.87 62.2 309.9 C62.87 308.93 63.73 307.98 64.5 307.2 C65.27 306.42 65.57 306.07 66.8 305.2 C68.03 304.33 70.27 302.97 71.9 302 C73.53 301.03 74.92 299.77 76.6 299.4 C78.28 299.03 80.43 299.5 82 299.8 C83.57 300.1 84.67 300.67 86 301.2 C87.33 301.73 88.18 302.1 90 303 C91.82 303.9 94.7 305.28 96.9 306.6 C99.1 307.92 101.37 309.57 103.2 310.9 C105.03 312.23 106.55 313.42 107.9 314.6 C109.25 315.78 110.18 316.88 111.3 318 C112.42 319.12 113.35 320.05 114.6 321.3 C115.85 322.55 117.42 324.12 118.8 325.5 C120.18 326.88 121.77 328.35 122.9 329.6 C124.03 330.85 124.47 331.82 125.6 333 C126.73 334.18 127.78 334.75 129.7 336.7 C131.62 338.65 134.64 342.03 137.11 344.7 C139.58 347.37 142.05 350.03 144.52 352.7 C146.99 355.37 149.46 358.03 151.93 360.7 C154.4 363.37 156.87 366.03 159.34 368.7 C161.81 371.37 164.29 374.03 166.76 376.7 C169.23 379.37 171.7 382.03 174.17 384.7 C176.64 387.37 179.11 390.03 181.58 392.7 C184.05 395.37 186.52 398.03 188.99 400.7 C191.46 403.37 195.16 407.37 196.4 408.7" stroke="#2a2a2a" stroke-width="1.1" fill="none" stroke-dasharray="5.2 5"/><path d="M128.5 323.8 L129.76 325.63 L130.94 325.26 L132.21 326.56 L133.45 327.24 L134.78 328.23 L136.05 327.87 L137.29 328.71 L138.76 329.1 L140 329.53 L141.27 330.26 L142.48 330.94 L143.87 331.26 L144.87 330.22 L145.65 329.54 L146.66 328.18 L147.77 326.19 L149.09 327.6 L150.28 327.57 L151.52 328.37 L152.87 329.69 L154.29 330.64 L155.45 331.36 L156.62 331.82 L157.73 333.03 L159 333.29 L160.22 335.49 L161.22 335.33 L162.28 336.77 L163.37 337.84 L164.44 338.96 L165.47 339.69 L166.67 340.52 L168.04 338.51 L169.26 339.2 L170.58 338.71 L172.02 338.15 L173.49 338.71 L174.88 337.98 L176.18 339.04 L177.36 339.12 L178.45 340.94 L179.59 341.35 L180.55 342.43 L181.58 345.05 L182.7 345.32 L183.95 345.81 L185.33 346.55 L186.78 346.52 L188.25 347.26 L189.66 348.46 L191.05 348.1 L192.54 349.8 L193.99 349.72 L195.26 351.12 L196.4 351.7" stroke="#1a1a1a" stroke-width="1.15" fill="none" stroke-linejoin="round"/></g>
<circle cx="62.4" cy="307.3" r="2.5"/>
<circle cx="78.13" cy="298" r="2.5"/>
<circle cx="88.59" cy="302.3" r="2.5"/>
<circle cx="97.81" cy="307.3" r="2.5"/>
<circle cx="115.32" cy="318.7" r="2.5"/>
<circle cx="123.6" cy="322.5" r="2.5"/>
<circle cx="132.19" cy="328.9" r="2.5"/>
<circle cx="143.36" cy="331.9" r="2.5"/>
<circle cx="182.19" cy="344.8" r="2.5"/>
<text x="67" y="399.8" class="pt">ISO 143</text>
<text y="411.3" class="pt"><tspan x="67">M5</tspan><tspan x="83.85">A</tspan><tspan class="sub" dy="2.6">J</tspan><tspan x="95" dy="-2.6">=</tspan><tspan x="102.2">1.1</tspan></text>
<clipPath id="c12"><rect x="250" y="283.2" width="148.4" height="134.9"/></clipPath>
<path d="M255.64 418.1 v-1.7 M255.64 283.2 v1.7 M260.34 418.1 v-1.7 M260.34 283.2 v1.7 M264.49 418.1 v-1.7 M264.49 283.2 v1.7 M268.2 418.1 v-3.2 M268.2 283.2 v3.2 M292.61 418.1 v-1.7 M292.61 283.2 v1.7 M306.89 418.1 v-1.7 M306.89 283.2 v1.7 M317.03 418.1 v-1.7 M317.03 283.2 v1.7 M324.89 418.1 v-1.7 M324.89 283.2 v1.7 M331.31 418.1 v-1.7 M331.31 283.2 v1.7 M336.74 418.1 v-1.7 M336.74 283.2 v1.7 M341.44 418.1 v-1.7 M341.44 283.2 v1.7 M345.59 418.1 v-1.7 M345.59 283.2 v1.7 M349.3 418.1 v-3.2 M349.3 283.2 v3.2 M373.71 418.1 v-1.7 M373.71 283.2 v1.7 M387.99 418.1 v-1.7 M387.99 283.2 v1.7 M250 416.49 h1.7 M398.4 416.49 h-1.7 M250 413.51 h1.7 M398.4 413.51 h-1.7 M250 411.07 h1.7 M398.4 411.07 h-1.7 M250 409.01 h1.7 M398.4 409.01 h-1.7 M250 407.23 h1.7 M398.4 407.23 h-1.7 M250 405.66 h1.7 M398.4 405.66 h-1.7 M250 404.25 h3.2 M398.4 404.25 h-3.2 M250 394.99 h1.7 M398.4 394.99 h-1.7 M250 389.58 h1.7 M398.4 389.58 h-1.7 M250 385.74 h1.7 M398.4 385.74 h-1.7 M250 382.76 h1.7 M398.4 382.76 h-1.7 M250 380.32 h1.7 M398.4 380.32 h-1.7 M250 378.26 h1.7 M398.4 378.26 h-1.7 M250 376.48 h1.7 M398.4 376.48 h-1.7 M250 374.91 h1.7 M398.4 374.91 h-1.7 M250 373.5 h3.2 M398.4 373.5 h-3.2 M250 364.24 h1.7 M398.4 364.24 h-1.7 M250 358.83 h1.7 M398.4 358.83 h-1.7 M250 354.99 h1.7 M398.4 354.99 h-1.7 M250 352.01 h1.7 M398.4 352.01 h-1.7 M250 349.57 h1.7 M398.4 349.57 h-1.7 M250 347.51 h1.7 M398.4 347.51 h-1.7 M250 345.73 h1.7 M398.4 345.73 h-1.7 M250 344.16 h1.7 M398.4 344.16 h-1.7 M250 342.75 h3.2 M398.4 342.75 h-3.2 M250 333.49 h1.7 M398.4 333.49 h-1.7 M250 328.08 h1.7 M398.4 328.08 h-1.7 M250 324.24 h1.7 M398.4 324.24 h-1.7 M250 321.26 h1.7 M398.4 321.26 h-1.7 M250 318.82 h1.7 M398.4 318.82 h-1.7 M250 316.76 h1.7 M398.4 316.76 h-1.7 M250 314.98 h1.7 M398.4 314.98 h-1.7 M250 313.41 h1.7 M398.4 313.41 h-1.7 M250 312 h3.2 M398.4 312 h-3.2 M250 302.74 h1.7 M398.4 302.74 h-1.7 M250 297.33 h1.7 M398.4 297.33 h-1.7 M250 293.49 h1.7 M398.4 293.49 h-1.7 M250 290.51 h1.7 M398.4 290.51 h-1.7 M250 288.07 h1.7 M398.4 288.07 h-1.7 M250 286.01 h1.7 M398.4 286.01 h-1.7 M250 284.23 h1.7 M398.4 284.23 h-1.7" stroke="#222" stroke-width="0.9" fill="none"/>
<rect x="250" y="283.2" width="148.4" height="134.9" fill="none" stroke="#333" stroke-width="1"/>
<text x="246.6" y="315.7" text-anchor="end" class="tl">10<tspan class="sup" dx="-0.5" dy="-3.9">−10</tspan></text>
<text x="246.6" y="346.45" text-anchor="end" class="tl">10<tspan class="sup" dx="-0.5" dy="-3.9">−11</tspan></text>
<text x="246.6" y="377.2" text-anchor="end" class="tl">10<tspan class="sup" dx="-0.5" dy="-3.9">−12</tspan></text>
<text x="246.6" y="407.95" text-anchor="end" class="tl">10<tspan class="sup" dx="-0.5" dy="-3.9">−13</tspan></text>
<g clip-path="url(#c12)"><path d="M250.2 307.5 C250.67 306.92 252.1 305.12 253 304 C253.9 302.88 254.77 301.58 255.6 300.8 C256.43 300.02 256.43 299.72 258 299.3 C259.57 298.88 262 298.47 265 298.3 C268 298.13 272.92 298.18 276 298.3 C279.08 298.42 281.5 298.6 283.5 299 C285.5 299.4 286.53 299.92 288 300.7 C289.47 301.48 290.8 302.48 292.3 303.7 C293.8 304.92 294.98 305.99 297 308 C299.02 310.01 301.96 313.16 304.44 315.75 C306.92 318.33 309.4 320.91 311.88 323.49 C314.36 326.07 316.84 328.66 319.32 331.24 C321.79 333.82 324.27 336.4 326.75 338.98 C329.23 341.57 331.71 344.15 334.19 346.73 C336.67 349.31 339.15 351.89 341.63 354.48 C344.11 357.06 346.59 359.64 349.07 362.22 C351.55 364.81 354.03 367.39 356.51 369.97 C358.99 372.55 361.47 375.13 363.95 377.72 C366.43 380.3 368.91 382.88 371.38 385.46 C373.86 388.04 376.34 390.63 378.82 393.21 C381.3 395.79 383.78 398.37 386.26 400.95 C388.74 403.54 392.46 407.41 393.7 408.7" stroke="#2a2a2a" stroke-width="1.1" fill="none" stroke-dasharray="5.2 5"/><path d="M326.5 314.9 L327.43 315.42 L328.49 317.01 L329.66 318.05 L330.82 319.13 L331.84 320.5 L332.97 321.23 L334.05 322.03 L335.12 323.46 L336.22 323.49 L337.37 323.99 L338.54 324.61 L339.88 325.37 L341.25 325.65 L342.44 324.94 L343.45 324.2 L344.58 323.67 L345.82 322.71 L347.07 321.64 L348.49 321.82 L349.56 322.37 L350.47 323.02 L351.52 324.7 L352.53 325.68 L353.41 326.79 L354.37 328.8 L355.36 329.82 L356.35 330.74 L357.31 331.94 L358.48 333.59 L359.82 333.18 L361.34 333.23 L362.57 332.7 L363.79 332.16 L365 331.42 L366.18 330.19 L367.33 329.31 L368.43 328.71 L369.64 327.87 L370.83 327.61 L372.1 327.59 L373.5 327.08 L374.72 327.99 L375.98 328.16 L377.26 328.95 L378.55 330 L379.6 330.94 L380.67 331.59 L382.03 331.79 L383.4 333.55 L384.8 333.36 L386.23 333.48 L387.7 334.15 L388.98 334.08 L390.44 334.22 L391.92 335.19 L393.23 335.53 L394.4 335.7" stroke="#1a1a1a" stroke-width="1.15" fill="none" stroke-linejoin="round"/></g>
<circle cx="259.9" cy="297.4" r="2.5"/>
<circle cx="275.63" cy="298" r="2.5"/>
<circle cx="286.09" cy="299.6" r="2.5"/>
<circle cx="295.31" cy="302.4" r="2.5"/>
<circle cx="379.69" cy="331.9" r="2.5"/>
<text x="260.5" y="399.8" class="pt">VY Cha</text>
<text y="411.3" class="pt"><tspan x="260.5">M0.5</tspan><tspan x="284.85">A</tspan><tspan class="sub" dy="2.6">J</tspan><tspan x="296.4" dy="-2.6">=</tspan><tspan x="303.8">0.9</tspan></text>
<clipPath id="c22"><rect x="450.5" y="283.2" width="148" height="134.9"/></clipPath>
<path d="M456.14 418.1 v-1.7 M456.14 283.2 v1.7 M460.84 418.1 v-1.7 M460.84 283.2 v1.7 M464.99 418.1 v-1.7 M464.99 283.2 v1.7 M468.7 418.1 v-3.2 M468.7 283.2 v3.2 M493.11 418.1 v-1.7 M493.11 283.2 v1.7 M507.39 418.1 v-1.7 M507.39 283.2 v1.7 M517.53 418.1 v-1.7 M517.53 283.2 v1.7 M525.39 418.1 v-1.7 M525.39 283.2 v1.7 M531.81 418.1 v-1.7 M531.81 283.2 v1.7 M537.24 418.1 v-1.7 M537.24 283.2 v1.7 M541.94 418.1 v-1.7 M541.94 283.2 v1.7 M546.09 418.1 v-1.7 M546.09 283.2 v1.7 M549.8 418.1 v-3.2 M549.8 283.2 v3.2 M574.21 418.1 v-1.7 M574.21 283.2 v1.7 M588.49 418.1 v-1.7 M588.49 283.2 v1.7 M450.5 416.2 h3.2 M598.5 416.2 h-3.2 M450.5 407.24 h1.7 M598.5 407.24 h-1.7 M450.5 402.01 h1.7 M598.5 402.01 h-1.7 M450.5 398.29 h1.7 M598.5 398.29 h-1.7 M450.5 395.41 h1.7 M598.5 395.41 h-1.7 M450.5 393.05 h1.7 M598.5 393.05 h-1.7 M450.5 391.06 h1.7 M598.5 391.06 h-1.7 M450.5 389.33 h1.7 M598.5 389.33 h-1.7 M450.5 387.81 h1.7 M598.5 387.81 h-1.7 M450.5 386.45 h3.2 M598.5 386.45 h-3.2 M450.5 377.49 h1.7 M598.5 377.49 h-1.7 M450.5 372.26 h1.7 M598.5 372.26 h-1.7 M450.5 368.54 h1.7 M598.5 368.54 h-1.7 M450.5 365.66 h1.7 M598.5 365.66 h-1.7 M450.5 363.3 h1.7 M598.5 363.3 h-1.7 M450.5 361.31 h1.7 M598.5 361.31 h-1.7 M450.5 359.58 h1.7 M598.5 359.58 h-1.7 M450.5 358.06 h1.7 M598.5 358.06 h-1.7 M450.5 356.7 h3.2 M598.5 356.7 h-3.2 M450.5 347.74 h1.7 M598.5 347.74 h-1.7 M450.5 342.51 h1.7 M598.5 342.51 h-1.7 M450.5 338.79 h1.7 M598.5 338.79 h-1.7 M450.5 335.91 h1.7 M598.5 335.91 h-1.7 M450.5 333.55 h1.7 M598.5 333.55 h-1.7 M450.5 331.56 h1.7 M598.5 331.56 h-1.7 M450.5 329.83 h1.7 M598.5 329.83 h-1.7 M450.5 328.31 h1.7 M598.5 328.31 h-1.7 M450.5 326.95 h3.2 M598.5 326.95 h-3.2 M450.5 317.99 h1.7 M598.5 317.99 h-1.7 M450.5 312.76 h1.7 M598.5 312.76 h-1.7 M450.5 309.04 h1.7 M598.5 309.04 h-1.7 M450.5 306.16 h1.7 M598.5 306.16 h-1.7 M450.5 303.8 h1.7 M598.5 303.8 h-1.7 M450.5 301.81 h1.7 M598.5 301.81 h-1.7 M450.5 300.08 h1.7 M598.5 300.08 h-1.7 M450.5 298.56 h1.7 M598.5 298.56 h-1.7 M450.5 297.2 h3.2 M598.5 297.2 h-3.2 M450.5 288.24 h1.7 M598.5 288.24 h-1.7" stroke="#222" stroke-width="0.9" fill="none"/>
<rect x="450.5" y="283.2" width="148" height="134.9" fill="none" stroke="#333" stroke-width="1"/>
<text x="447.1" y="300.9" text-anchor="end" class="tl">10<tspan class="sup" dx="-0.5" dy="-3.9">−9</tspan></text>
<text x="447.1" y="330.65" text-anchor="end" class="tl">10<tspan class="sup" dx="-0.5" dy="-3.9">−10</tspan></text>
<text x="447.1" y="360.4" text-anchor="end" class="tl">10<tspan class="sup" dx="-0.5" dy="-3.9">−11</tspan></text>
<text x="447.1" y="390.15" text-anchor="end" class="tl">10<tspan class="sup" dx="-0.5" dy="-3.9">−12</tspan></text>
<text x="447.1" y="419.9" text-anchor="end" class="tl">10<tspan class="sup" dx="-0.5" dy="-3.9">−13</tspan></text>
<g clip-path="url(#c22)"><path d="M450.6 313 C451.12 312.25 452.63 309.83 453.7 308.5 C454.77 307.17 455.95 305.88 457 305 C458.05 304.12 458.28 303.65 460 303.2 C461.72 302.75 465.3 302.5 467.3 302.3 C469.3 302.1 470.22 302.08 472 302 C473.78 301.92 476.2 301.72 478 301.8 C479.8 301.88 481.47 302.22 482.8 302.5 C484.13 302.78 484.82 302.95 486 303.5 C487.18 304.05 488.73 305.02 489.9 305.8 C491.07 306.58 491.98 307.43 493 308.2 C494.02 308.97 494.82 309.42 496 310.4 C497.18 311.38 498.73 312.9 500.1 314.1 C501.47 315.3 502.9 316.4 504.2 317.6 C505.5 318.8 506.6 320.07 507.9 321.3 C509.2 322.53 510.68 323.75 512 325 C513.32 326.25 513.98 326.96 515.8 328.8 C517.62 330.64 520.56 333.64 522.95 336.06 C525.33 338.48 527.71 340.91 530.09 343.33 C532.47 345.75 534.85 348.17 537.24 350.59 C539.62 353.01 542 355.43 544.38 357.85 C546.76 360.28 549.15 362.7 551.53 365.12 C553.91 367.54 556.29 369.96 558.67 372.38 C561.05 374.8 563.44 377.22 565.82 379.65 C568.2 382.07 570.58 384.49 572.96 386.91 C575.35 389.33 577.73 391.75 580.11 394.17 C582.49 396.59 584.87 399.02 587.25 401.44 C589.64 403.86 593.21 407.49 594.4 408.7" stroke="#2a2a2a" stroke-width="1.1" fill="none" stroke-dasharray="5.2 5"/><path d="M526.5 300.2 L527.43 301.57 L528.49 302.62 L529.37 305.18 L530.25 304.98 L531.35 305.97 L532.5 306.93 L533.76 307.12 L535.05 307.42 L536.53 308.4 L538.04 308.53 L539.31 309.46 L540.77 309.34 L542.05 308.51 L542.83 307.62 L543.37 306.4 L544.22 304.87 L545.31 304.84 L546.49 304.1 L547.88 304.08 L549.16 303.05 L550.6 303.4 L551.87 304.48 L553.01 305.55 L554.23 305.73 L555.56 307.74 L556.74 307.68 L557.93 309.21 L559.27 309.21 L560.68 309.14 L561.82 308.11 L563 307.95 L564.32 308.66 L565.7 307.13 L567 307.94 L568.46 307.87 L569.76 307.23 L571.08 308.04 L572.35 308.45 L573.61 308.22 L574.87 308.71 L576.08 310.02 L577.42 310.35 L578.69 311.7 L580.02 311.63 L581.28 311.54 L582.55 312.56 L583.98 312.68 L585.47 314.14 L586.95 314.79 L588.34 315 L589.79 315.6 L591.28 317.21 L592.66 317.5 L593.79 318.85 L594.4 318.7" stroke="#1a1a1a" stroke-width="1.15" fill="none" stroke-linejoin="round"/></g>
<circle cx="460.4" cy="302.8" r="2.5"/>
<circle cx="476.13" cy="301.5" r="2.5"/>
<circle cx="486.59" cy="299.7" r="2.5"/>
<circle cx="495.81" cy="297.2" r="2.5"/>
<circle cx="513.32" cy="303.5" r="2.5"/>
<circle cx="521.6" cy="305.3" r="2.5"/>
<circle cx="530.19" cy="309.4" r="2.5"/>
<circle cx="541.36" cy="310.6" r="2.5"/>
<circle cx="580.19" cy="311.9" r="2.5"/>
<text x="459.1" y="399.8" class="pt">C1-6</text>
<text y="411.3" class="pt"><tspan x="459.1">M1.25</tspan><tspan x="487.85">A</tspan><tspan class="sub" dy="2.6">J</tspan><tspan x="498.7" dy="-2.6">=</tspan><tspan x="506.3">3.2</tspan></text>
<clipPath id="c03"><rect x="52.5" y="424.5" width="148.5" height="135"/></clipPath>
<path d="M58.14 559.5 v-1.7 M58.14 424.5 v1.7 M62.84 559.5 v-1.7 M62.84 424.5 v1.7 M66.99 559.5 v-1.7 M66.99 424.5 v1.7 M70.7 559.5 v-3.2 M70.7 424.5 v3.2 M95.11 559.5 v-1.7 M95.11 424.5 v1.7 M109.39 559.5 v-1.7 M109.39 424.5 v1.7 M119.53 559.5 v-1.7 M119.53 424.5 v1.7 M127.39 559.5 v-1.7 M127.39 424.5 v1.7 M133.81 559.5 v-1.7 M133.81 424.5 v1.7 M139.24 559.5 v-1.7 M139.24 424.5 v1.7 M143.94 559.5 v-1.7 M143.94 424.5 v1.7 M148.09 559.5 v-1.7 M148.09 424.5 v1.7 M151.8 559.5 v-3.2 M151.8 424.5 v3.2 M176.21 559.5 v-1.7 M176.21 424.5 v1.7 M190.49 559.5 v-1.7 M190.49 424.5 v1.7 M52.5 557.27 h1.7 M201 557.27 h-1.7 M52.5 554.99 h1.7 M201 554.99 h-1.7 M52.5 553.06 h1.7 M201 553.06 h-1.7 M52.5 551.39 h1.7 M201 551.39 h-1.7 M52.5 549.92 h1.7 M201 549.92 h-1.7 M52.5 548.6 h3.2 M201 548.6 h-3.2 M52.5 539.93 h1.7 M201 539.93 h-1.7 M52.5 534.86 h1.7 M201 534.86 h-1.7 M52.5 531.26 h1.7 M201 531.26 h-1.7 M52.5 528.47 h1.7 M201 528.47 h-1.7 M52.5 526.19 h1.7 M201 526.19 h-1.7 M52.5 524.26 h1.7 M201 524.26 h-1.7 M52.5 522.59 h1.7 M201 522.59 h-1.7 M52.5 521.12 h1.7 M201 521.12 h-1.7 M52.5 519.8 h3.2 M201 519.8 h-3.2 M52.5 511.13 h1.7 M201 511.13 h-1.7 M52.5 506.06 h1.7 M201 506.06 h-1.7 M52.5 502.46 h1.7 M201 502.46 h-1.7 M52.5 499.67 h1.7 M201 499.67 h-1.7 M52.5 497.39 h1.7 M201 497.39 h-1.7 M52.5 495.46 h1.7 M201 495.46 h-1.7 M52.5 493.79 h1.7 M201 493.79 h-1.7 M52.5 492.32 h1.7 M201 492.32 h-1.7 M52.5 491 h3.2 M201 491 h-3.2 M52.5 482.33 h1.7 M201 482.33 h-1.7 M52.5 477.26 h1.7 M201 477.26 h-1.7 M52.5 473.66 h1.7 M201 473.66 h-1.7 M52.5 470.87 h1.7 M201 470.87 h-1.7 M52.5 468.59 h1.7 M201 468.59 h-1.7 M52.5 466.66 h1.7 M201 466.66 h-1.7 M52.5 464.99 h1.7 M201 464.99 h-1.7 M52.5 463.52 h1.7 M201 463.52 h-1.7 M52.5 462.2 h3.2 M201 462.2 h-3.2 M52.5 453.53 h1.7 M201 453.53 h-1.7 M52.5 448.46 h1.7 M201 448.46 h-1.7 M52.5 444.86 h1.7 M201 444.86 h-1.7 M52.5 442.07 h1.7 M201 442.07 h-1.7 M52.5 439.79 h1.7 M201 439.79 h-1.7 M52.5 437.86 h1.7 M201 437.86 h-1.7 M52.5 436.19 h1.7 M201 436.19 h-1.7 M52.5 434.72 h1.7 M201 434.72 h-1.7 M52.5 433.4 h3.2 M201 433.4 h-3.2" stroke="#222" stroke-width="0.9" fill="none"/>
<rect x="52.5" y="424.5" width="148.5" height="135" fill="none" stroke="#333" stroke-width="1"/>
<text x="49.1" y="437.1" text-anchor="end" class="tl">10<tspan class="sup" dx="-0.5" dy="-3.9">−9</tspan></text>
<text x="49.1" y="465.9" text-anchor="end" class="tl">10<tspan class="sup" dx="-0.5" dy="-3.9">−10</tspan></text>
<text x="49.1" y="494.7" text-anchor="end" class="tl">10<tspan class="sup" dx="-0.5" dy="-3.9">−11</tspan></text>
<text x="49.1" y="523.5" text-anchor="end" class="tl">10<tspan class="sup" dx="-0.5" dy="-3.9">−12</tspan></text>
<text x="49.1" y="552.3" text-anchor="end" class="tl">10<tspan class="sup" dx="-0.5" dy="-3.9">−13</tspan></text>
<g clip-path="url(#c03)"><path d="M52.6 446.5 C53.28 446.03 55.13 444.45 56.7 443.7 C58.27 442.95 60.28 442.25 62 442 C63.72 441.75 65.28 442.03 67 442.2 C68.72 442.37 70.97 442.75 72.3 443 C73.63 443.25 73.98 443.5 75 443.7 C76.02 443.9 77.07 443.98 78.4 444.2 C79.73 444.42 81.45 444.68 83 445 C84.55 445.32 86.17 445.38 87.7 446.1 C89.23 446.82 90.7 448.2 92.2 449.3 C93.7 450.4 95.38 451.57 96.7 452.7 C98.02 453.83 98.8 454.97 100.1 456.1 C101.4 457.23 103.2 458.32 104.5 459.5 C105.8 460.68 106.6 462.02 107.9 463.2 C109.2 464.38 110.93 465.4 112.3 466.6 C113.67 467.8 114.85 469.15 116.1 470.4 C117.35 471.65 117.9 472.2 119.8 474.1 C121.7 476 124.95 479.24 127.52 481.81 C130.09 484.38 132.67 486.95 135.24 489.52 C137.81 492.09 140.39 494.66 142.96 497.23 C145.53 499.8 148.11 502.37 150.68 504.94 C153.25 507.51 155.83 510.08 158.4 512.65 C160.97 515.22 163.55 517.79 166.12 520.36 C168.69 522.93 171.27 525.5 173.84 528.07 C176.41 530.64 178.99 533.21 181.56 535.78 C184.13 538.35 186.71 540.92 189.28 543.49 C191.85 546.06 195.71 549.92 197 551.2" stroke="#2a2a2a" stroke-width="1.1" fill="none" stroke-dasharray="5.2 5"/><path d="M129 455 L130.35 455.76 L131.89 456.95 L133.15 456.97 L134.38 458.19 L135.81 458.5 L137.07 458.97 L138.35 459.89 L139.78 459.52 L141.22 459.68 L142.56 460.11 L143.86 460.36 L145.19 459.96 L146.47 459.54 L147.7 458.3 L149.12 458.21 L150.44 458.26 L151.64 458.5 L152.78 459.42 L153.87 460.49 L155 461.93 L156.12 462.92 L157.4 464.01 L158.42 465 L159.46 465.41 L160.84 466.72 L162.15 467.45 L163.46 467.96 L164.78 467.67 L166.08 467.91 L167.68 467.55 L169.28 468.2 L170.89 467.83 L172.44 468.21 L173.85 469.18 L175.2 468.56 L176.47 470.01 L177.78 470.5 L179.13 470.9 L180.55 471.77 L181.85 472.37 L183.31 473.14 L184.62 473.31 L186.05 473.8 L187.51 474.4 L188.96 474.84 L190.34 475.6 L191.79 475.81 L193.28 476.76 L194.66 476.21 L196.02 476.78 L196.4 477.2" stroke="#1a1a1a" stroke-width="1.15" fill="none" stroke-linejoin="round"/></g>
<circle cx="62.4" cy="438" r="2.5"/>
<circle cx="78.13" cy="444" r="2.5"/>
<circle cx="88.59" cy="441.5" r="2.5"/>
<circle cx="97.81" cy="440.5" r="2.5"/>
<circle cx="115.32" cy="446.1" r="2.5"/>
<circle cx="123.6" cy="448.1" r="2.5"/>
<circle cx="132.19" cy="453.7" r="2.5"/>
<circle cx="143.36" cy="457" r="2.5"/>
<circle cx="182.19" cy="472.7" r="2.5"/>
<text x="64.1" y="541.1" class="pt">VZ Cha</text>
<text y="552.6" class="pt"><tspan x="64.1">K6</tspan><tspan x="80.55">A</tspan><tspan class="sub" dy="2.6">J</tspan><tspan x="91.7" dy="-2.6">=</tspan><tspan x="98.8">0.5</tspan></text>
<clipPath id="c13"><rect x="250" y="424.5" width="148.4" height="135"/></clipPath>
<path d="M255.64 559.5 v-1.7 M255.64 424.5 v1.7 M260.34 559.5 v-1.7 M260.34 424.5 v1.7 M264.49 559.5 v-1.7 M264.49 424.5 v1.7 M268.2 559.5 v-3.2 M268.2 424.5 v3.2 M292.61 559.5 v-1.7 M292.61 424.5 v1.7 M306.89 559.5 v-1.7 M306.89 424.5 v1.7 M317.03 559.5 v-1.7 M317.03 424.5 v1.7 M324.89 559.5 v-1.7 M324.89 424.5 v1.7 M331.31 559.5 v-1.7 M331.31 424.5 v1.7 M336.74 559.5 v-1.7 M336.74 424.5 v1.7 M341.44 559.5 v-1.7 M341.44 424.5 v1.7 M345.59 559.5 v-1.7 M345.59 424.5 v1.7 M349.3 559.5 v-3.2 M349.3 424.5 v3.2 M373.71 559.5 v-1.7 M373.71 424.5 v1.7 M387.99 559.5 v-1.7 M387.99 424.5 v1.7 M250 556.94 h1.7 M398.4 556.94 h-1.7 M250 554.43 h1.7 M398.4 554.43 h-1.7 M250 552.31 h1.7 M398.4 552.31 h-1.7 M250 550.47 h1.7 M398.4 550.47 h-1.7 M250 548.85 h1.7 M398.4 548.85 h-1.7 M250 547.4 h3.2 M398.4 547.4 h-3.2 M250 537.86 h1.7 M398.4 537.86 h-1.7 M250 532.28 h1.7 M398.4 532.28 h-1.7 M250 528.31 h1.7 M398.4 528.31 h-1.7 M250 525.24 h1.7 M398.4 525.24 h-1.7 M250 522.73 h1.7 M398.4 522.73 h-1.7 M250 520.61 h1.7 M398.4 520.61 h-1.7 M250 518.77 h1.7 M398.4 518.77 h-1.7 M250 517.15 h1.7 M398.4 517.15 h-1.7 M250 515.7 h3.2 M398.4 515.7 h-3.2 M250 506.16 h1.7 M398.4 506.16 h-1.7 M250 500.58 h1.7 M398.4 500.58 h-1.7 M250 496.61 h1.7 M398.4 496.61 h-1.7 M250 493.54 h1.7 M398.4 493.54 h-1.7 M250 491.03 h1.7 M398.4 491.03 h-1.7 M250 488.91 h1.7 M398.4 488.91 h-1.7 M250 487.07 h1.7 M398.4 487.07 h-1.7 M250 485.45 h1.7 M398.4 485.45 h-1.7 M250 484 h3.2 M398.4 484 h-3.2 M250 474.46 h1.7 M398.4 474.46 h-1.7 M250 468.88 h1.7 M398.4 468.88 h-1.7 M250 464.91 h1.7 M398.4 464.91 h-1.7 M250 461.84 h1.7 M398.4 461.84 h-1.7 M250 459.33 h1.7 M398.4 459.33 h-1.7 M250 457.21 h1.7 M398.4 457.21 h-1.7 M250 455.37 h1.7 M398.4 455.37 h-1.7 M250 453.75 h1.7 M398.4 453.75 h-1.7 M250 452.3 h3.2 M398.4 452.3 h-3.2 M250 442.76 h1.7 M398.4 442.76 h-1.7 M250 437.18 h1.7 M398.4 437.18 h-1.7 M250 433.21 h1.7 M398.4 433.21 h-1.7 M250 430.14 h1.7 M398.4 430.14 h-1.7 M250 427.63 h1.7 M398.4 427.63 h-1.7 M250 425.51 h1.7 M398.4 425.51 h-1.7" stroke="#222" stroke-width="0.9" fill="none"/>
<rect x="250" y="424.5" width="148.4" height="135" fill="none" stroke="#333" stroke-width="1"/>
<text x="246.6" y="456" text-anchor="end" class="tl">10<tspan class="sup" dx="-0.5" dy="-3.9">−10</tspan></text>
<text x="246.6" y="487.7" text-anchor="end" class="tl">10<tspan class="sup" dx="-0.5" dy="-3.9">−11</tspan></text>
<text x="246.6" y="519.4" text-anchor="end" class="tl">10<tspan class="sup" dx="-0.5" dy="-3.9">−12</tspan></text>
<text x="246.6" y="551.1" text-anchor="end" class="tl">10<tspan class="sup" dx="-0.5" dy="-3.9">−13</tspan></text>
<g clip-path="url(#c13)"><path d="M250.3 473.5 C250.5 472.92 251.03 471.5 251.5 470 C251.97 468.5 252.42 466.33 253.1 464.5 C253.78 462.67 254.87 460.67 255.6 459 C256.33 457.33 256.77 455.87 257.5 454.5 C258.23 453.13 258.95 452.08 260 450.8 C261.05 449.52 262.32 448.07 263.8 446.8 C265.28 445.53 266.98 444.28 268.9 443.2 C270.82 442.12 273.45 440.83 275.3 440.3 C277.15 439.77 278.7 439.93 280 440 C281.3 440.07 281.98 440.3 283.1 440.7 C284.22 441.1 284.73 441.08 286.7 442.4 C288.67 443.72 292.18 446.63 294.9 448.6 C297.62 450.57 300.27 452.22 303 454.2 C305.73 456.18 308.8 458.27 311.3 460.5 C313.8 462.73 315.88 465.27 318 467.6 C320.12 469.93 321.8 472.03 324 474.5 C326.2 476.97 328.81 479.78 331.22 482.42 C333.63 485.06 336.03 487.7 338.44 490.34 C340.85 492.98 343.25 495.62 345.66 498.26 C348.07 500.9 350.47 503.54 352.88 506.18 C355.29 508.82 357.69 511.46 360.1 514.1 C362.51 516.74 364.91 519.38 367.32 522.02 C369.73 524.66 372.13 527.3 374.54 529.94 C376.95 532.58 379.35 535.22 381.76 537.86 C384.17 540.5 386.57 543.14 388.98 545.78 C391.39 548.42 395 552.38 396.2 553.7" stroke="#2a2a2a" stroke-width="1.1" fill="none" stroke-dasharray="5.2 5"/><path d="M329.6 475.2 L330.78 476.23 L331.88 478.03 L333.11 477.98 L334.38 478.59 L335.61 480.66 L336.89 481.96 L337.88 482.69 L338.89 483.6 L339.93 484.09 L341.34 484.82 L342.8 485.52 L344.33 486.38 L345.89 486.81 L347.44 488.01 L348.94 488.55 L350.35 488.5 L351.69 490.49 L352.99 491.23 L353.97 492.69 L354.97 493.82 L356 494.33 L357.09 494.3 L358.23 496.85 L359.39 497.13 L360.54 500.07 L361.64 500.16 L362.67 501.34 L363.88 503.01 L365.16 501.18 L366.5 501.38 L367.78 500.09 L369.07 499.91 L370.3 499.25 L371.7 499.68 L373.09 499.53 L374.27 500.59 L375.43 501.55 L376.7 501.05 L377.97 503.27 L379.43 502.96 L380.93 502.61 L382.36 503.41 L383.9 504.47 L385.48 504.81 L387 504.21 L388.59 504.87 L390.31 505.19 L391.97 505.83 L393.39 505.44 L394.4 505.6" stroke="#1a1a1a" stroke-width="1.15" fill="none" stroke-linejoin="round"/></g>
<circle cx="259.9" cy="448.6" r="2.5"/>
<circle cx="275.63" cy="439.2" r="2.5"/>
<circle cx="286.09" cy="444.3" r="2.5"/>
<circle cx="295.31" cy="451.1" r="2.5"/>
<circle cx="312.82" cy="461.3" r="2.5"/>
<circle cx="321.1" cy="466.3" r="2.5"/>
<circle cx="329.69" cy="476" r="2.5"/>
<circle cx="340.86" cy="485.8" r="2.5"/>
<circle cx="379.69" cy="503.6" r="2.5"/>
<text x="259.7" y="541.1" class="pt">C7-1</text>
<text y="552.6" class="pt"><tspan x="259.7">M5</tspan><tspan x="277.15">A</tspan><tspan class="sub" dy="2.6">J</tspan><tspan x="288.7" dy="-2.6">=</tspan><tspan x="295.9">1.9</tspan></text>
<clipPath id="c23"><rect x="450.5" y="424.5" width="148" height="135"/></clipPath>
<path d="M456.14 559.5 v-1.7 M456.14 424.5 v1.7 M460.84 559.5 v-1.7 M460.84 424.5 v1.7 M464.99 559.5 v-1.7 M464.99 424.5 v1.7 M468.7 559.5 v-3.2 M468.7 424.5 v3.2 M493.11 559.5 v-1.7 M493.11 424.5 v1.7 M507.39 559.5 v-1.7 M507.39 424.5 v1.7 M517.53 559.5 v-1.7 M517.53 424.5 v1.7 M525.39 559.5 v-1.7 M525.39 424.5 v1.7 M531.81 559.5 v-1.7 M531.81 424.5 v1.7 M537.24 559.5 v-1.7 M537.24 424.5 v1.7 M541.94 559.5 v-1.7 M541.94 424.5 v1.7 M546.09 559.5 v-1.7 M546.09 424.5 v1.7 M549.8 559.5 v-3.2 M549.8 424.5 v3.2 M574.21 559.5 v-1.7 M574.21 424.5 v1.7 M588.49 559.5 v-1.7 M588.49 424.5 v1.7 M450.5 555.06 h1.7 M598.5 555.06 h-1.7 M450.5 551.18 h1.7 M598.5 551.18 h-1.7 M450.5 548.16 h1.7 M598.5 548.16 h-1.7 M450.5 545.7 h1.7 M598.5 545.7 h-1.7 M450.5 543.62 h1.7 M598.5 543.62 h-1.7 M450.5 541.81 h1.7 M598.5 541.81 h-1.7 M450.5 540.22 h1.7 M598.5 540.22 h-1.7 M450.5 538.8 h3.2 M598.5 538.8 h-3.2 M450.5 529.44 h1.7 M598.5 529.44 h-1.7 M450.5 523.96 h1.7 M598.5 523.96 h-1.7 M450.5 520.08 h1.7 M598.5 520.08 h-1.7 M450.5 517.06 h1.7 M598.5 517.06 h-1.7 M450.5 514.6 h1.7 M598.5 514.6 h-1.7 M450.5 512.52 h1.7 M598.5 512.52 h-1.7 M450.5 510.71 h1.7 M598.5 510.71 h-1.7 M450.5 509.12 h1.7 M598.5 509.12 h-1.7 M450.5 507.7 h3.2 M598.5 507.7 h-3.2 M450.5 498.34 h1.7 M598.5 498.34 h-1.7 M450.5 492.86 h1.7 M598.5 492.86 h-1.7 M450.5 488.98 h1.7 M598.5 488.98 h-1.7 M450.5 485.96 h1.7 M598.5 485.96 h-1.7 M450.5 483.5 h1.7 M598.5 483.5 h-1.7 M450.5 481.42 h1.7 M598.5 481.42 h-1.7 M450.5 479.61 h1.7 M598.5 479.61 h-1.7 M450.5 478.02 h1.7 M598.5 478.02 h-1.7 M450.5 476.6 h3.2 M598.5 476.6 h-3.2 M450.5 467.24 h1.7 M598.5 467.24 h-1.7 M450.5 461.76 h1.7 M598.5 461.76 h-1.7 M450.5 457.88 h1.7 M598.5 457.88 h-1.7 M450.5 454.86 h1.7 M598.5 454.86 h-1.7 M450.5 452.4 h1.7 M598.5 452.4 h-1.7 M450.5 450.32 h1.7 M598.5 450.32 h-1.7 M450.5 448.51 h1.7 M598.5 448.51 h-1.7 M450.5 446.92 h1.7 M598.5 446.92 h-1.7 M450.5 445.5 h3.2 M598.5 445.5 h-3.2 M450.5 436.14 h1.7 M598.5 436.14 h-1.7 M450.5 430.66 h1.7 M598.5 430.66 h-1.7 M450.5 426.78 h1.7 M598.5 426.78 h-1.7" stroke="#222" stroke-width="0.9" fill="none"/>
<rect x="450.5" y="424.5" width="148" height="135" fill="none" stroke="#333" stroke-width="1"/>
<text x="447.1" y="449.2" text-anchor="end" class="tl">10<tspan class="sup" dx="-0.5" dy="-3.9">−10</tspan></text>
<text x="447.1" y="480.3" text-anchor="end" class="tl">10<tspan class="sup" dx="-0.5" dy="-3.9">−11</tspan></text>
<text x="447.1" y="511.4" text-anchor="end" class="tl">10<tspan class="sup" dx="-0.5" dy="-3.9">−12</tspan></text>
<text x="447.1" y="542.5" text-anchor="end" class="tl">10<tspan class="sup" dx="-0.5" dy="-3.9">−13</tspan></text>
<g clip-path="url(#c23)"><path d="M450.6 459 C451 458.25 451.93 456.17 453 454.5 C454.07 452.83 455.67 450.58 457 449 C458.33 447.42 459.67 446.13 461 445 C462.33 443.87 463.5 442.95 465 442.2 C466.5 441.45 468.25 440.95 470 440.5 C471.75 440.05 473.67 439.55 475.5 439.5 C477.33 439.45 479.25 439.82 481 440.2 C482.75 440.58 484.33 441.03 486 441.8 C487.67 442.57 489.33 443.6 491 444.8 C492.67 446 494.5 447.67 496 449 C497.5 450.33 498.12 450.91 500 452.8 C501.88 454.69 504.84 457.85 507.26 460.37 C509.68 462.89 512.1 465.42 514.52 467.94 C516.94 470.46 519.36 472.98 521.78 475.51 C524.21 478.03 526.63 480.55 529.05 483.08 C531.47 485.6 533.89 488.12 536.31 490.65 C538.73 493.17 541.15 495.69 543.57 498.22 C545.99 500.74 548.41 503.26 550.83 505.78 C553.25 508.31 555.67 510.83 558.09 513.35 C560.51 515.88 562.93 518.4 565.35 520.92 C567.77 523.45 570.19 525.97 572.62 528.49 C575.04 531.02 577.46 533.54 579.88 536.06 C582.3 538.58 584.72 541.11 587.14 543.63 C589.56 546.15 593.19 549.94 594.4 551.2" stroke="#2a2a2a" stroke-width="1.1" fill="none" stroke-dasharray="5.2 5"/><path d="M526.5 458.7 L527.48 460.01 L528.63 460.17 L529.78 459.96 L530.76 458.91 L531.89 459.66 L532.73 460.87 L533.54 461.94 L534.66 462.36 L535.46 461.39 L536.54 461.7 L537.27 462.77 L538.31 463.9 L539.66 464.44 L541.05 464.72 L542.18 464.13 L542.78 462.67 L543.24 461.25 L543.86 460.29 L544.47 459.1 L545.23 457.95 L545.97 456.85 L546.7 455.4 L547.5 454.35 L548.52 453.11 L549.83 453.11 L550.98 453.75 L551.88 454.85 L553 455.81 L554.16 456.86 L555.18 458.02 L556.24 459.2 L557.31 460.36 L558.33 460.87 L559.5 462.05 L560.81 462.21 L562.18 461.87 L563.3 461.22 L564.43 460.34 L565.39 459.59 L566.36 458.68 L567.32 457.64 L568.43 456.54 L569.64 455.77 L570.83 454.97 L572.1 454.56 L573.54 454.32 L575.07 454.12 L576.54 454.5 L577.99 454.63 L579.41 454.9 L580.73 454.82 L582.22 455.3 L583.61 455.49 L585.1 455.55 L586.59 456.16 L588 456.6 L589.42 456.9 L590.91 456.87 L592.33 457.58 L593.79 457.73 L594.4 458" stroke="#1a1a1a" stroke-width="1.15" fill="none" stroke-linejoin="round"/></g>
<circle cx="460.4" cy="453.7" r="2.5"/>
<circle cx="476.13" cy="439.2" r="2.5"/>
<circle cx="486.59" cy="439.2" r="2.5"/>
<circle cx="495.81" cy="442.3" r="2.5"/>
<circle cx="513.32" cy="455.7" r="2.5"/>
<circle cx="521.6" cy="458.2" r="2.5"/>
<circle cx="530.19" cy="462.5" r="2.5"/>
<circle cx="541.36" cy="464.3" r="2.5"/>
<circle cx="580.19" cy="460" r="2.5"/>
<text x="459.1" y="541.1" class="pt">Hn 10E</text>
<text y="552.6" class="pt"><tspan x="459.1">M3.25</tspan><tspan x="489.15">A</tspan><tspan class="sub" dy="2.6">J</tspan><tspan x="501" dy="-2.6">=</tspan><tspan x="507.9">1.0</tspan></text>
<g clip-path="url(#c21)"><path d="M526.9 187.05 L527.16 186.52 L527.42 188.59 L527.68 205.15 L527.94 204.06 L528.2 198.93 L528.46 191.88 L528.72 200.95 L528.98 192.75 L529.24 188.91 L529.5 186.48 L529.76 188.19 L530.02 199.45 L530.28 191.91 L530.54 179.48 L530.8 188.83 L531.06 186.68 L531.32 200.85 L531.58 189.27 L531.84 190.39 L532.1 188.4 L532.36 191.21 L532.62 179.67 L532.88 192.48 L533.14 188.38 L533.4 187.21 L533.66 191.7 L533.92 205.25 L534.18 207.95 L534.44 190.46 L534.7 188.66 L534.96 190.64 L535.22 189.69 L535.48 193.12 L535.74 191.17 L536 208.56 L536.26 193.51 L536.52 188.56 L536.78 191.27 L537.04 205.03 L537.3 199.87 L537.56 209.66 L537.82 201.86 L538.08 192.76 L538.34 204.92 L538.6 192.88 L538.86 192.76 L539.12 181.49 L539.38 192.93 L539.64 187.81 L539.9 201.75 L540.16 180.92 L540.42 188.64 L540.68 204.6 L540.94 190.8 L541.2 191.69 L541.46 191.19 L541.72 187.26 L541.98 192.36 L542.24 192.5 L542.5 189.72 L542.76 207.96 L543.02 199.47 L543.28 184.02 L543.54 187.36 L543.8 200.78 L544.06 203.98 L544.32 211.65 L544.58 188.09 L544.84 182.44 L545.1 187.95 L545.36 194.05 L545.62 190.5 L545.88 200.17 L546.14 189 L546.4 188.29 L546.66 212.94 L546.92 188.22 L547.18 189.32 L547.6 192.78 L548.02 191.81 L548.44 187.68 L548.86 202.91 L549.28 192.23 L549.7 190.27 L550.12 193.06 L550.54 192.46 L550.96 192.26 L551.38 187.37 L551.8 189.78 L552.22 198.32 L552.64 186.79 L553.06 191.42 L553.48 193.4 L553.9 191.2 L554.32 188.82 L554.74 197.82 L555.16 193.26 L555.58 191.78 L556 192.98 L556.42 202.55 L556.84 193 L557.26 191.95 L557.68 203.96 L558.1 193.19 L558.52 191.78 L558.94 193.8 L559.36 191.05 L559.78 197.79 L560.2 193.42 L560.62 204.63 L561.04 192.97 L561.46 192.62 L561.88 196.63 L562.3 193.07 L562.72 194.13 L563.14 193.95 L563.56 191.62 L563.98 189.53 L564.4 188.39 L564.82 189.11 L565.24 205.92 L565.66 192.72 L566.08 194.36 L566.5 194.45 L566.92 193.11 L567.34 191.3 L567.76 191.94 L568.18 205.11 L568.6 201.89 L569.02 193.41 L569.44 193.31 L569.86 194.31 L570.28 193.7 L570.88 193.32 L571.48 193.96 L572.08 194.64 L572.68 194.19 L573.28 194.5 L573.88 195.05 L574.48 194.91 L575.08 195.91 L575.68 195.96 L576.28 194.9 L576.88 196.45 L577.48 195.02 L578.08 195.81 L578.68 195.59 L579.28 196.62 L579.88 197.26 L580.48 205.8 L580.93 197.43 L581.38 199.9 L581.83 207.22 L582.28 198.46 L582.73 199.5 L583.18 204.09 L583.63 198.02 L584.08 203.41 L584.53 197.06 L584.98 198.32 L585.43 203.49 L585.88 198.54 L586.33 207.41 L586.78 199.92 L587.23 203.09 L587.68 206.17 L588.13 195.98 L588.58 199.73 L589.03 197.78 L589.48 207.02 L589.93 199.1 L590.38 201.85 L590.83 198.28 L591.28 207.13 L591.73 199.4 L592.18 206.64 L592.63 208.7 L593.08 208.7 L593.53 199.78 L593.98 195.98 L594.43 186.5 L594.88 202.47" stroke="#111" stroke-width="0.8" fill="none"/></g>
<text x="70.7" y="571.5" text-anchor="middle" class="tl">1</text>
<text x="151.8" y="571.5" text-anchor="middle" class="tl">10</text>
<text x="268.2" y="571.5" text-anchor="middle" class="tl">1</text>
<text x="349.3" y="571.5" text-anchor="middle" class="tl">10</text>
<text x="468.7" y="571.5" text-anchor="middle" class="tl">1</text>
<text x="549.8" y="571.5" text-anchor="middle" class="tl">10</text>
<text x="323.6" y="585.8" text-anchor="middle" class="ax" style="font-size:11.6px">λ (μm)</text>
<text transform="translate(15.4 279.2) rotate(-90)" text-anchor="middle" class="ax" style="font-size:11.5px">λF<tspan font-size="8" dy="2">λ</tspan><tspan dy="-2"> (erg s</tspan><tspan font-size="8" dy="-4">−1</tspan><tspan dy="4"> cm</tspan><tspan font-size="8" dy="-4">−2</tspan><tspan dy="4">)</tspan></text>
</g>
</svg>
</body></html>
